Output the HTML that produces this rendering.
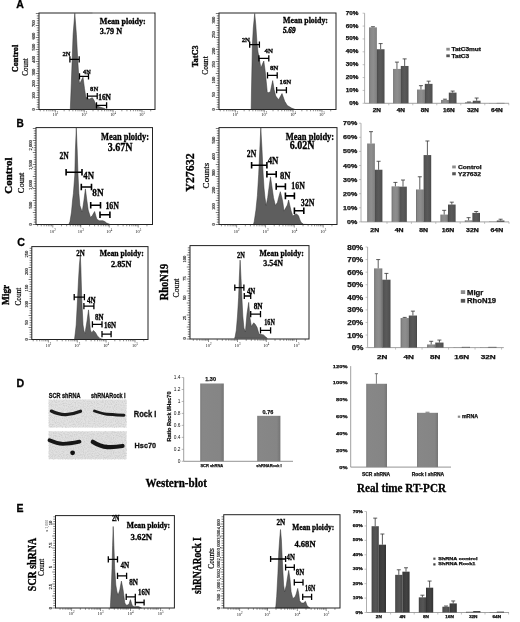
<!DOCTYPE html><html><head><meta charset="utf-8"><style>html,body{margin:0;padding:0;background:#fff;}svg{display:block;filter:blur(0.3px)}text{dominant-baseline:central;font-weight:bold}.s{font-family:"Liberation Serif",serif}.a{font-family:"Liberation Sans",sans-serif}.n{font-weight:normal}.i{font-style:italic}</style></head><body>
<svg width="520" height="622" viewBox="0 0 520 622">
<rect width="520" height="622" fill="#fff"/>
<defs><linearGradient id="gL"><stop offset="0" stop-color="#6c6c6c"/><stop offset="0.2" stop-color="#888"/><stop offset="0.55" stop-color="#8e8e8e"/><stop offset="0.85" stop-color="#858585"/><stop offset="1" stop-color="#6a6a6a"/></linearGradient><linearGradient id="gD"><stop offset="0" stop-color="#444"/><stop offset="0.15" stop-color="#535353"/><stop offset="0.5" stop-color="#5a5a5a"/><stop offset="0.85" stop-color="#525252"/><stop offset="1" stop-color="#444"/></linearGradient><linearGradient id="gEL"><stop offset="0" stop-color="#3e3e3e"/><stop offset="0.2" stop-color="#4f4f4f"/><stop offset="0.6" stop-color="#565656"/><stop offset="1" stop-color="#454545"/></linearGradient><linearGradient id="gED"><stop offset="0" stop-color="#303030"/><stop offset="0.2" stop-color="#3c3c3c"/><stop offset="0.6" stop-color="#424242"/><stop offset="1" stop-color="#333"/></linearGradient><linearGradient id="gR"><stop offset="0" stop-color="#7c7c7c"/><stop offset="0.1" stop-color="#878787"/><stop offset="0.85" stop-color="#858585"/><stop offset="1" stop-color="#747474"/></linearGradient></defs>
<text x="16.2" y="4.3" class="a" font-size="11.2" textLength="7.6" lengthAdjust="spacingAndGlyphs" stroke="#000" stroke-width="0.3">A</text>
<text x="16.5" y="122.9" class="a" font-size="10.8" textLength="7.3" lengthAdjust="spacingAndGlyphs" stroke="#000" stroke-width="0.3">B</text>
<text x="17.3" y="242.3" class="a" font-size="11" textLength="7.7" lengthAdjust="spacingAndGlyphs" stroke="#000" stroke-width="0.3">C</text>
<text x="16.4" y="382.6" class="a" font-size="10.8" textLength="7.7" lengthAdjust="spacingAndGlyphs" stroke="#000" stroke-width="0.3">D</text>
<text x="16.4" y="508.4" class="a" font-size="10.8" textLength="7" lengthAdjust="spacingAndGlyphs" stroke="#000" stroke-width="0.3">E</text>
<polygon points="70.3,109.5 71.3,83.8 72.2,59.2 73.1,34.6 74.8,13.3 76.4,34.6 77.7,59.2 78.9,78.9 79.7,83.8 81.5,80 83,77.2 84.5,88.7 85.8,96.9 89,99.3 92.3,97.7 94,100.2 95.6,104.3 98.9,106.7 104.6,108.5 106,109.5" fill="#5e5e5e" stroke="#333" stroke-width="0.5" stroke-linejoin="round"/>
<rect x="39" y="13" width="116" height="96.5" fill="none" stroke="#222" stroke-width="1"/>
<line x1="92.5" y1="13" x2="154" y2="13" stroke="#aaa" stroke-width="1.3"/>
<path d="M35.8 109.5h3.2M36.8 107.1h2.2M36.8 104.7h2.2M36.8 102.3h2.2M36.8 99.9h2.2M35.8 97.5h3.2M36.8 95.1h2.2M36.8 92.7h2.2M36.8 90.3h2.2M36.8 87.9h2.2M35.8 85.5h3.2M36.8 83.1h2.2M36.8 80.7h2.2M36.8 78.3h2.2M36.8 75.9h2.2M35.8 73.5h3.2M36.8 71.1h2.2M36.8 68.7h2.2M36.8 66.3h2.2M36.8 63.9h2.2M35.8 61.5h3.2M36.8 59.1h2.2M36.8 56.7h2.2M36.8 54.3h2.2M36.8 51.9h2.2M35.8 49.5h3.2M36.8 47.1h2.2M36.8 44.7h2.2M36.8 42.3h2.2M36.8 39.9h2.2M35.8 37.5h3.2M36.8 35.1h2.2M36.8 32.7h2.2M36.8 30.3h2.2M36.8 27.9h2.2M35.8 25.5h3.2M36.8 23.1h2.2M36.8 20.7h2.2M36.8 18.3h2.2M36.8 15.9h2.2M35.8 13.5h3.2" stroke="#222" stroke-width="0.6"/>
<text x="55.4" y="114.8" text-anchor="middle" class="s n" font-size="4.4" fill="#111" >10<tspan dy="-1.5" font-size="3">2</tspan></text>
<text x="84.3" y="114.8" text-anchor="middle" class="s n" font-size="4.4" fill="#111" >10<tspan dy="-1.5" font-size="3">3</tspan></text>
<text x="113.1" y="114.8" text-anchor="middle" class="s n" font-size="4.4" fill="#111" >10<tspan dy="-1.5" font-size="3">4</tspan></text>
<text x="142" y="114.8" text-anchor="middle" class="s n" font-size="4.4" fill="#111" >10<tspan dy="-1.5" font-size="3">5</tspan></text>
<path d="M55.4 109.5v3M64.13 109.5v1.8M69.24 109.5v1.8M40.24 109.5v1.8M72.86 109.5v1.8M43.86 109.5v1.8M75.67 109.5v1.8M46.67 109.5v1.8M77.97 109.5v1.8M48.97 109.5v1.8M79.91 109.5v1.8M50.91 109.5v1.8M81.59 109.5v1.8M52.59 109.5v1.8M83.07 109.5v1.8M54.07 109.5v1.8M84.3 109.5v3M93.03 109.5v1.8M98.14 109.5v1.8M101.76 109.5v1.8M104.57 109.5v1.8M106.87 109.5v1.8M108.81 109.5v1.8M110.49 109.5v1.8M111.97 109.5v1.8M113.1 109.5v3M121.83 109.5v1.8M126.94 109.5v1.8M130.56 109.5v1.8M133.37 109.5v1.8M135.67 109.5v1.8M137.61 109.5v1.8M139.29 109.5v1.8M140.77 109.5v1.8M142 109.5v3M150.73 109.5v1.8" stroke="#333" stroke-width="0.55"/>
<text transform="translate(33.8,109.3) rotate(-90)" text-anchor="middle" class="s n" font-size="4.5" fill="#111" stroke="#111" stroke-width="0.15">0</text>
<text transform="translate(33.8,95.5) rotate(-90)" text-anchor="middle" class="s n" font-size="4.5" fill="#111" stroke="#111" stroke-width="0.15">100</text>
<text transform="translate(33.8,83.5) rotate(-90)" text-anchor="middle" class="s n" font-size="4.5" fill="#111" stroke="#111" stroke-width="0.15">200</text>
<text transform="translate(33.8,72) rotate(-90)" text-anchor="middle" class="s n" font-size="4.5" fill="#111" stroke="#111" stroke-width="0.15">300</text>
<text transform="translate(33.8,59.4) rotate(-90)" text-anchor="middle" class="s n" font-size="4.5" fill="#111" stroke="#111" stroke-width="0.15">400</text>
<text transform="translate(33.8,47) rotate(-90)" text-anchor="middle" class="s n" font-size="4.5" fill="#111" stroke="#111" stroke-width="0.15">500</text>
<text transform="translate(33.8,36) rotate(-90)" text-anchor="middle" class="s n" font-size="4.5" fill="#111" stroke="#111" stroke-width="0.15">600</text>
<text transform="translate(33.8,23.6) rotate(-90)" text-anchor="middle" class="s n" font-size="4.5" fill="#111" stroke="#111" stroke-width="0.15">700</text>
<path d="M69.9 59.3H79.2M69.9 56.2v6.2M79.2 56.2v6.2" stroke="#000" stroke-width="1.3" fill="none"/>
<text x="62.5" y="53.9" class="s" font-size="7" textLength="8" lengthAdjust="spacingAndGlyphs" stroke="#000" stroke-width="0.3">2N</text>
<path d="M79.5 76.3H88.5M79.5 73.2v6.2M88.5 73.2v6.2" stroke="#000" stroke-width="1.3" fill="none"/>
<text x="83.1" y="72.1" class="s" font-size="7" textLength="7.7" lengthAdjust="spacingAndGlyphs" stroke="#000" stroke-width="0.3">4N</text>
<path d="M87.4 96.15H97.2M87.4 93.05v6.2M97.2 93.05v6.2" stroke="#000" stroke-width="1.3" fill="none"/>
<text x="90.1" y="88.9" class="s" font-size="7" textLength="8.1" lengthAdjust="spacingAndGlyphs" stroke="#000" stroke-width="0.3">8N</text>
<path d="M96.5 105.4H106.6M96.5 102.3v6.2M106.6 102.3v6.2" stroke="#000" stroke-width="1.3" fill="none"/>
<text x="98.2" y="97.3" class="s" font-size="7.4" textLength="12.8" lengthAdjust="spacingAndGlyphs" stroke="#000" stroke-width="0.3">16N</text>
<text x="99.8" y="21.6" class="s" font-size="8" textLength="46" lengthAdjust="spacingAndGlyphs" stroke="#000" stroke-width="0.3">Mean ploidy:</text>
<text x="99.8" y="31.3" class="s" font-size="8" textLength="22.3" lengthAdjust="spacingAndGlyphs" stroke="#000" stroke-width="0.3">3.79 N</text>
<text transform="translate(15.25,58.5) rotate(-90)" text-anchor="middle" class="s" font-size="8.2" textLength="27.7" lengthAdjust="spacingAndGlyphs" stroke="#000" stroke-width="0.35">Control</text>
<text transform="translate(25.4,67) rotate(-90)" text-anchor="middle" class="s n" font-size="7.5" textLength="17.3" lengthAdjust="spacingAndGlyphs" stroke="#000" stroke-width="0.2">Count</text>
<polygon points="251.2,109.5 251.5,90 251.9,70 252.4,45 253.3,28 254.7,13.5 255.8,25 256.9,41.7 258,52 259.5,60 260.9,67.9 262.5,64 263.8,61 265.1,70.6 266.2,81.2 267.2,91.7 268.3,92.8 270.4,91.7 272.7,80.6 274.1,89.6 275.7,96 278.6,99.7 282,93.6 284.7,101.3 287.3,105.5 291.6,108.1 295.3,109.5" fill="#5e5e5e" stroke="#333" stroke-width="0.5" stroke-linejoin="round"/>
<rect x="219" y="13" width="117" height="96.5" fill="none" stroke="#222" stroke-width="1"/>
<path d="M215.8 109.5h3.2M216.8 107.1h2.2M216.8 104.7h2.2M216.8 102.3h2.2M216.8 99.9h2.2M215.8 97.5h3.2M216.8 95.1h2.2M216.8 92.7h2.2M216.8 90.3h2.2M216.8 87.9h2.2M215.8 85.5h3.2M216.8 83.1h2.2M216.8 80.7h2.2M216.8 78.3h2.2M216.8 75.9h2.2M215.8 73.5h3.2M216.8 71.1h2.2M216.8 68.7h2.2M216.8 66.3h2.2M216.8 63.9h2.2M215.8 61.5h3.2M216.8 59.1h2.2M216.8 56.7h2.2M216.8 54.3h2.2M216.8 51.9h2.2M215.8 49.5h3.2M216.8 47.1h2.2M216.8 44.7h2.2M216.8 42.3h2.2M216.8 39.9h2.2M215.8 37.5h3.2M216.8 35.1h2.2M216.8 32.7h2.2M216.8 30.3h2.2M216.8 27.9h2.2M215.8 25.5h3.2M216.8 23.1h2.2M216.8 20.7h2.2M216.8 18.3h2.2M216.8 15.9h2.2M215.8 13.5h3.2" stroke="#222" stroke-width="0.6"/>
<text x="235.4" y="114.8" text-anchor="middle" class="s n" font-size="4.4" fill="#111" >10<tspan dy="-1.5" font-size="3">2</tspan></text>
<text x="264.3" y="114.8" text-anchor="middle" class="s n" font-size="4.4" fill="#111" >10<tspan dy="-1.5" font-size="3">3</tspan></text>
<text x="293.1" y="114.8" text-anchor="middle" class="s n" font-size="4.4" fill="#111" >10<tspan dy="-1.5" font-size="3">4</tspan></text>
<text x="322" y="114.8" text-anchor="middle" class="s n" font-size="4.4" fill="#111" >10<tspan dy="-1.5" font-size="3">5</tspan></text>
<path d="M235.4 109.5v3M244.13 109.5v1.8M249.24 109.5v1.8M220.24 109.5v1.8M252.86 109.5v1.8M223.86 109.5v1.8M255.67 109.5v1.8M226.67 109.5v1.8M257.97 109.5v1.8M228.97 109.5v1.8M259.91 109.5v1.8M230.91 109.5v1.8M261.59 109.5v1.8M232.59 109.5v1.8M263.07 109.5v1.8M234.07 109.5v1.8M264.3 109.5v3M273.03 109.5v1.8M278.14 109.5v1.8M281.76 109.5v1.8M284.57 109.5v1.8M286.87 109.5v1.8M288.81 109.5v1.8M290.49 109.5v1.8M291.97 109.5v1.8M293.1 109.5v3M301.83 109.5v1.8M306.94 109.5v1.8M310.56 109.5v1.8M313.37 109.5v1.8M315.67 109.5v1.8M317.61 109.5v1.8M319.29 109.5v1.8M320.77 109.5v1.8M322 109.5v3M330.73 109.5v1.8" stroke="#333" stroke-width="0.55"/>
<text transform="translate(213.8,109.3) rotate(-90)" text-anchor="middle" class="s n" font-size="4.5" fill="#111" stroke="#111" stroke-width="0.15">0</text>
<text transform="translate(213.8,94.5) rotate(-90)" text-anchor="middle" class="s n" font-size="4.5" fill="#111" stroke="#111" stroke-width="0.15">50</text>
<text transform="translate(213.8,80) rotate(-90)" text-anchor="middle" class="s n" font-size="4.5" fill="#111" stroke="#111" stroke-width="0.15">100</text>
<text transform="translate(213.8,64.6) rotate(-90)" text-anchor="middle" class="s n" font-size="4.5" fill="#111" stroke="#111" stroke-width="0.15">150</text>
<text transform="translate(213.8,51) rotate(-90)" text-anchor="middle" class="s n" font-size="4.5" fill="#111" stroke="#111" stroke-width="0.15">200</text>
<text transform="translate(213.8,34.7) rotate(-90)" text-anchor="middle" class="s n" font-size="4.5" fill="#111" stroke="#111" stroke-width="0.15">250</text>
<text transform="translate(213.8,20) rotate(-90)" text-anchor="middle" class="s n" font-size="4.5" fill="#111" stroke="#111" stroke-width="0.15">300</text>
<path d="M249.7 44.6H259.4M249.7 41.5v6.2M259.4 41.5v6.2" stroke="#000" stroke-width="1.3" fill="none"/>
<text x="241.7" y="39.9" class="s" font-size="7" textLength="8.3" lengthAdjust="spacingAndGlyphs" stroke="#000" stroke-width="0.3">2N</text>
<path d="M258.9 58.4H268.8M258.9 55.3v6.2M268.8 55.3v6.2" stroke="#000" stroke-width="1.3" fill="none"/>
<text x="264.6" y="50.9" class="s" font-size="7" textLength="8.4" lengthAdjust="spacingAndGlyphs" stroke="#000" stroke-width="0.3">4N</text>
<path d="M267.5 75.4H277.2M267.5 72.3v6.2M277.2 72.3v6.2" stroke="#000" stroke-width="1.3" fill="none"/>
<text x="269.9" y="67.5" class="s" font-size="7" textLength="8.5" lengthAdjust="spacingAndGlyphs" stroke="#000" stroke-width="0.3">8N</text>
<path d="M276.6 90.1H286.4M276.6 87v6.2M286.4 87v6.2" stroke="#000" stroke-width="1.3" fill="none"/>
<text x="279.5" y="82.2" class="s" font-size="7" textLength="11.7" lengthAdjust="spacingAndGlyphs" stroke="#000" stroke-width="0.3">16N</text>
<text x="283" y="20.5" class="s" font-size="8" textLength="45" lengthAdjust="spacingAndGlyphs" stroke="#000" stroke-width="0.3">Mean ploidy:</text>
<text x="283" y="30.2" class="s i" font-size="8.5" textLength="12.5" lengthAdjust="spacingAndGlyphs" stroke="#000" stroke-width="0.5">5.69</text>
<text transform="translate(195.7,56.3) rotate(-90)" text-anchor="middle" class="s" font-size="8" textLength="21.7" lengthAdjust="spacingAndGlyphs" stroke="#000" stroke-width="0.35">TatC3</text>
<text transform="translate(205.7,65.5) rotate(-90)" text-anchor="middle" class="s n" font-size="7.5" textLength="18.5" lengthAdjust="spacingAndGlyphs" stroke="#000" stroke-width="0.2">Count</text>
<polygon points="68.8,224.5 70,221.5 71.5,212 72.6,200 73.4,193.5 74.8,175 75.4,150 76.3,128 77.2,150 78,175 78.9,193.5 79.9,205.5 82.2,212 84,200 85.4,188.9 86.8,200 88.2,210 90.5,217.5 92.3,215.6 94.6,211.5 96,216.5 96.9,219.3 99.2,220.7 102.9,220.7 104.8,221.6 106.6,223 110.3,224.5" fill="#5e5e5e" stroke="#333" stroke-width="0.5" stroke-linejoin="round"/>
<rect x="36" y="127.6" width="116.5" height="96.9" fill="none" stroke="#222" stroke-width="1"/>
<path d="M32.8 224.5h3.2M33.8 222.1h2.2M33.8 219.7h2.2M33.8 217.3h2.2M33.8 214.9h2.2M32.8 212.5h3.2M33.8 210.1h2.2M33.8 207.7h2.2M33.8 205.3h2.2M33.8 202.9h2.2M32.8 200.5h3.2M33.8 198.1h2.2M33.8 195.7h2.2M33.8 193.3h2.2M33.8 190.9h2.2M32.8 188.5h3.2M33.8 186.1h2.2M33.8 183.7h2.2M33.8 181.3h2.2M33.8 178.9h2.2M32.8 176.5h3.2M33.8 174.1h2.2M33.8 171.7h2.2M33.8 169.3h2.2M33.8 166.9h2.2M32.8 164.5h3.2M33.8 162.1h2.2M33.8 159.7h2.2M33.8 157.3h2.2M33.8 154.9h2.2M32.8 152.5h3.2M33.8 150.1h2.2M33.8 147.7h2.2M33.8 145.3h2.2M33.8 142.9h2.2M32.8 140.5h3.2M33.8 138.1h2.2M33.8 135.7h2.2M33.8 133.3h2.2M33.8 130.9h2.2M32.8 128.5h3.2" stroke="#222" stroke-width="0.6"/>
<text x="52.8" y="231.8" text-anchor="middle" class="s n" font-size="4.4" fill="#111" >10<tspan dy="-1.5" font-size="3">2</tspan></text>
<text x="80.8" y="231.8" text-anchor="middle" class="s n" font-size="4.4" fill="#111" >10<tspan dy="-1.5" font-size="3">3</tspan></text>
<text x="109.3" y="231.8" text-anchor="middle" class="s n" font-size="4.4" fill="#111" >10<tspan dy="-1.5" font-size="3">4</tspan></text>
<text x="138.2" y="231.8" text-anchor="middle" class="s n" font-size="4.4" fill="#111" >10<tspan dy="-1.5" font-size="3">5</tspan></text>
<path d="M52.8 224.5v3M61.53 224.5v1.8M66.64 224.5v1.8M37.64 224.5v1.8M70.26 224.5v1.8M41.26 224.5v1.8M73.07 224.5v1.8M44.07 224.5v1.8M75.37 224.5v1.8M46.37 224.5v1.8M77.31 224.5v1.8M48.31 224.5v1.8M78.99 224.5v1.8M49.99 224.5v1.8M80.47 224.5v1.8M51.47 224.5v1.8M80.8 224.5v3M89.53 224.5v1.8M94.64 224.5v1.8M98.26 224.5v1.8M101.07 224.5v1.8M103.37 224.5v1.8M105.31 224.5v1.8M106.99 224.5v1.8M108.47 224.5v1.8M109.3 224.5v3M118.03 224.5v1.8M123.14 224.5v1.8M126.76 224.5v1.8M129.57 224.5v1.8M131.87 224.5v1.8M133.81 224.5v1.8M135.49 224.5v1.8M136.97 224.5v1.8M138.2 224.5v3M146.93 224.5v1.8" stroke="#333" stroke-width="0.55"/>
<text transform="translate(30.8,224.3) rotate(-90)" text-anchor="middle" class="s n" font-size="4.5" fill="#111" stroke="#111" stroke-width="0.15">0</text>
<text transform="translate(30.8,205) rotate(-90)" text-anchor="middle" class="s n" font-size="4.5" fill="#111" stroke="#111" stroke-width="0.15">500</text>
<text transform="translate(30.8,185) rotate(-90)" text-anchor="middle" class="s n" font-size="4.5" fill="#111" stroke="#111" stroke-width="0.15">1,000</text>
<text transform="translate(30.8,165) rotate(-90)" text-anchor="middle" class="s n" font-size="4.5" fill="#111" stroke="#111" stroke-width="0.15">1,500</text>
<text transform="translate(30.8,145.4) rotate(-90)" text-anchor="middle" class="s n" font-size="4.5" fill="#111" stroke="#111" stroke-width="0.15">2,000</text>
<path d="M66.1 172.2H82M66.1 168.9v6.6M82 168.9v6.6" stroke="#000" stroke-width="1.6" fill="none"/>
<text x="59.4" y="155.7" class="s" font-size="10" textLength="9.3" lengthAdjust="spacingAndGlyphs" stroke="#000" stroke-width="0.3">2N</text>
<path d="M81.3 187H91.5M81.3 183.7v6.6M91.5 183.7v6.6" stroke="#000" stroke-width="1.6" fill="none"/>
<text x="83.3" y="175" class="s" font-size="10" textLength="10.7" lengthAdjust="spacingAndGlyphs" stroke="#000" stroke-width="0.3">4N</text>
<path d="M90.7 205.3H100.5M90.7 202v6.6M100.5 202v6.6" stroke="#000" stroke-width="1.6" fill="none"/>
<text x="92.3" y="192.4" class="s" font-size="10" textLength="11.3" lengthAdjust="spacingAndGlyphs" stroke="#000" stroke-width="0.3">8N</text>
<path d="M100 214.8H109.9M100 211.5v6.6M109.9 211.5v6.6" stroke="#000" stroke-width="1.6" fill="none"/>
<text x="105.4" y="205.5" class="s" font-size="10" textLength="13.6" lengthAdjust="spacingAndGlyphs" stroke="#000" stroke-width="0.3">16N</text>
<text x="101" y="136" class="s" font-size="10" textLength="48" lengthAdjust="spacingAndGlyphs" stroke="#000" stroke-width="0.3">Mean ploidy:</text>
<text x="107.7" y="147.2" class="s" font-size="12" textLength="24.8" lengthAdjust="spacingAndGlyphs" stroke="#000" stroke-width="0.3">3.67N</text>
<text transform="translate(8.9,175.6) rotate(-90)" text-anchor="middle" class="s" font-size="10.5" textLength="36.2" lengthAdjust="spacingAndGlyphs" stroke="#000" stroke-width="0.35">Control</text>
<text transform="translate(20.7,182.9) rotate(-90)" text-anchor="middle" class="s n" font-size="8.5" textLength="20.7" lengthAdjust="spacingAndGlyphs" stroke="#000" stroke-width="0.2">Count</text>
<polygon points="253.4,224.5 254.2,221.8 255.9,210.3 257.4,195.6 258.7,174.2 259.8,149.6 260.8,128 262,149.6 263,172 264,188 265,198 266.2,205.5 267.7,197.7 268.9,188.5 270.5,176.9 272.2,188.5 273.5,197.7 275.4,205.5 277.5,202.3 278.6,197.7 280.3,191.7 281.9,197.7 282.8,202.3 284,211.1 287.4,205 288.6,200 289.7,205 291.1,211 292.9,216.2 294.5,214.5 296.6,214.1 298.5,215.7 299.9,219.9 301.2,222.6 303.6,224.3 308.2,224.5" fill="#5e5e5e" stroke="#333" stroke-width="0.5" stroke-linejoin="round"/>
<rect x="219" y="127.6" width="118" height="96.9" fill="none" stroke="#222" stroke-width="1"/>
<path d="M215.8 224.5h3.2M216.8 222.1h2.2M216.8 219.7h2.2M216.8 217.3h2.2M216.8 214.9h2.2M215.8 212.5h3.2M216.8 210.1h2.2M216.8 207.7h2.2M216.8 205.3h2.2M216.8 202.9h2.2M215.8 200.5h3.2M216.8 198.1h2.2M216.8 195.7h2.2M216.8 193.3h2.2M216.8 190.9h2.2M215.8 188.5h3.2M216.8 186.1h2.2M216.8 183.7h2.2M216.8 181.3h2.2M216.8 178.9h2.2M215.8 176.5h3.2M216.8 174.1h2.2M216.8 171.7h2.2M216.8 169.3h2.2M216.8 166.9h2.2M215.8 164.5h3.2M216.8 162.1h2.2M216.8 159.7h2.2M216.8 157.3h2.2M216.8 154.9h2.2M215.8 152.5h3.2M216.8 150.1h2.2M216.8 147.7h2.2M216.8 145.3h2.2M216.8 142.9h2.2M215.8 140.5h3.2M216.8 138.1h2.2M216.8 135.7h2.2M216.8 133.3h2.2M216.8 130.9h2.2M215.8 128.5h3.2" stroke="#222" stroke-width="0.6"/>
<text x="236.6" y="231" text-anchor="middle" class="s n" font-size="4.4" fill="#111" >10<tspan dy="-1.5" font-size="3">2</tspan></text>
<text x="265.5" y="231" text-anchor="middle" class="s n" font-size="4.4" fill="#111" >10<tspan dy="-1.5" font-size="3">3</tspan></text>
<text x="294.3" y="231" text-anchor="middle" class="s n" font-size="4.4" fill="#111" >10<tspan dy="-1.5" font-size="3">4</tspan></text>
<text x="323.2" y="231" text-anchor="middle" class="s n" font-size="4.4" fill="#111" >10<tspan dy="-1.5" font-size="3">5</tspan></text>
<path d="M236.6 224.5v3M245.33 224.5v1.8M250.44 224.5v1.8M221.44 224.5v1.8M254.06 224.5v1.8M225.06 224.5v1.8M256.87 224.5v1.8M227.87 224.5v1.8M259.17 224.5v1.8M230.17 224.5v1.8M261.11 224.5v1.8M232.11 224.5v1.8M262.79 224.5v1.8M233.79 224.5v1.8M264.27 224.5v1.8M235.27 224.5v1.8M265.5 224.5v3M274.23 224.5v1.8M279.34 224.5v1.8M282.96 224.5v1.8M285.77 224.5v1.8M288.07 224.5v1.8M290.01 224.5v1.8M291.69 224.5v1.8M293.17 224.5v1.8M294.3 224.5v3M303.03 224.5v1.8M308.14 224.5v1.8M311.76 224.5v1.8M314.57 224.5v1.8M316.87 224.5v1.8M318.81 224.5v1.8M320.49 224.5v1.8M321.97 224.5v1.8M323.2 224.5v3M331.93 224.5v1.8" stroke="#333" stroke-width="0.55"/>
<text transform="translate(213.8,224.3) rotate(-90)" text-anchor="middle" class="s n" font-size="4.5" fill="#111" stroke="#111" stroke-width="0.15">0</text>
<text transform="translate(213.8,206.6) rotate(-90)" text-anchor="middle" class="s n" font-size="4.5" fill="#111" stroke="#111" stroke-width="0.15">100</text>
<text transform="translate(213.8,190.2) rotate(-90)" text-anchor="middle" class="s n" font-size="4.5" fill="#111" stroke="#111" stroke-width="0.15">200</text>
<text transform="translate(213.8,172.9) rotate(-90)" text-anchor="middle" class="s n" font-size="4.5" fill="#111" stroke="#111" stroke-width="0.15">300</text>
<text transform="translate(213.8,156.5) rotate(-90)" text-anchor="middle" class="s n" font-size="4.5" fill="#111" stroke="#111" stroke-width="0.15">400</text>
<text transform="translate(213.8,140) rotate(-90)" text-anchor="middle" class="s n" font-size="4.5" fill="#111" stroke="#111" stroke-width="0.15">500</text>
<path d="M251.6 165.2H266.9M251.6 161.9v6.6M266.9 161.9v6.6" stroke="#000" stroke-width="1.6" fill="none"/>
<text x="246.8" y="153.7" class="s" font-size="10" textLength="9.4" lengthAdjust="spacingAndGlyphs" stroke="#000" stroke-width="0.3">2N</text>
<path d="M266.9 174.3H276.2M266.9 171v6.6M276.2 171v6.6" stroke="#000" stroke-width="1.6" fill="none"/>
<text x="267.7" y="160.3" class="s" font-size="10" textLength="10.7" lengthAdjust="spacingAndGlyphs" stroke="#000" stroke-width="0.3">4N</text>
<path d="M276.2 186.5H285.4M276.2 183.2v6.6M285.4 183.2v6.6" stroke="#000" stroke-width="1.6" fill="none"/>
<text x="280" y="175" class="s" font-size="10" textLength="10.5" lengthAdjust="spacingAndGlyphs" stroke="#000" stroke-width="0.3">8N</text>
<path d="M285.4 195.9H294.4M285.4 192.6v6.6M294.4 192.6v6.6" stroke="#000" stroke-width="1.6" fill="none"/>
<text x="291.3" y="185.6" class="s" font-size="10" textLength="13.5" lengthAdjust="spacingAndGlyphs" stroke="#000" stroke-width="0.3">16N</text>
<path d="M294.4 210.7H303.8M294.4 207.4v6.6M303.8 207.4v6.6" stroke="#000" stroke-width="1.6" fill="none"/>
<text x="300.8" y="202.1" class="s" font-size="10" textLength="13.7" lengthAdjust="spacingAndGlyphs" stroke="#000" stroke-width="0.3">32N</text>
<text x="285.8" y="136.6" class="s" font-size="10" textLength="48.4" lengthAdjust="spacingAndGlyphs" stroke="#000" stroke-width="0.3">Mean ploidy:</text>
<text x="289.8" y="144.5" class="s" font-size="12" textLength="24.8" lengthAdjust="spacingAndGlyphs" stroke="#000" stroke-width="0.3">6.02N</text>
<text transform="translate(189.6,172.5) rotate(-90)" text-anchor="middle" class="s" font-size="13.5" textLength="38.5" lengthAdjust="spacingAndGlyphs" stroke="#000" stroke-width="0.35">Y27632</text>
<text transform="translate(206.3,175.6) rotate(-90)" text-anchor="middle" class="s n" font-size="8.5" textLength="25.6" lengthAdjust="spacingAndGlyphs" stroke="#000" stroke-width="0.2">Counts</text>
<polygon points="74.5,339.5 75.3,333 76.2,324.9 77.5,300 78.5,280 79.4,265 80.3,255.6 80.9,268 81.2,280 81.8,300 83,324.9 84,331 85,333.4 87.2,320 88.5,309.9 89.5,320 90.4,329.9 91.7,332.9 93.4,330.4 95.4,332.4 97.4,335.9 99.9,338.4 103,339.5" fill="#5e5e5e" stroke="#333" stroke-width="0.5" stroke-linejoin="round"/>
<rect x="31.8" y="246.6" width="116.2" height="92.9" fill="none" stroke="#222" stroke-width="1"/>
<path d="M28.6 339.5h3.2M29.6 337.1h2.2M29.6 334.7h2.2M29.6 332.3h2.2M29.6 329.9h2.2M28.6 327.5h3.2M29.6 325.1h2.2M29.6 322.7h2.2M29.6 320.3h2.2M29.6 317.9h2.2M28.6 315.5h3.2M29.6 313.1h2.2M29.6 310.7h2.2M29.6 308.3h2.2M29.6 305.9h2.2M28.6 303.5h3.2M29.6 301.1h2.2M29.6 298.7h2.2M29.6 296.3h2.2M29.6 293.9h2.2M28.6 291.5h3.2M29.6 289.1h2.2M29.6 286.7h2.2M29.6 284.3h2.2M29.6 281.9h2.2M28.6 279.5h3.2M29.6 277.1h2.2M29.6 274.7h2.2M29.6 272.3h2.2M29.6 269.9h2.2M28.6 267.5h3.2M29.6 265.1h2.2M29.6 262.7h2.2M29.6 260.3h2.2M29.6 257.9h2.2M28.6 255.5h3.2M29.6 253.1h2.2M29.6 250.7h2.2M29.6 248.3h2.2" stroke="#222" stroke-width="0.6"/>
<text x="48.4" y="345.8" text-anchor="middle" class="s n" font-size="4.4" fill="#111" >10<tspan dy="-1.5" font-size="3">2</tspan></text>
<text x="77.3" y="345.8" text-anchor="middle" class="s n" font-size="4.4" fill="#111" >10<tspan dy="-1.5" font-size="3">3</tspan></text>
<text x="106.1" y="345.8" text-anchor="middle" class="s n" font-size="4.4" fill="#111" >10<tspan dy="-1.5" font-size="3">4</tspan></text>
<text x="135" y="345.8" text-anchor="middle" class="s n" font-size="4.4" fill="#111" >10<tspan dy="-1.5" font-size="3">5</tspan></text>
<path d="M48.4 339.5v3M57.13 339.5v1.8M62.24 339.5v1.8M33.24 339.5v1.8M65.86 339.5v1.8M36.86 339.5v1.8M68.67 339.5v1.8M39.67 339.5v1.8M70.97 339.5v1.8M41.97 339.5v1.8M72.91 339.5v1.8M43.91 339.5v1.8M74.59 339.5v1.8M45.59 339.5v1.8M76.07 339.5v1.8M47.07 339.5v1.8M77.3 339.5v3M86.03 339.5v1.8M91.14 339.5v1.8M94.76 339.5v1.8M97.57 339.5v1.8M99.87 339.5v1.8M101.81 339.5v1.8M103.49 339.5v1.8M104.97 339.5v1.8M106.1 339.5v3M114.83 339.5v1.8M119.94 339.5v1.8M123.56 339.5v1.8M126.37 339.5v1.8M128.67 339.5v1.8M130.61 339.5v1.8M132.29 339.5v1.8M133.77 339.5v1.8M135 339.5v3M143.73 339.5v1.8" stroke="#333" stroke-width="0.55"/>
<text transform="translate(26.6,339.3) rotate(-90)" text-anchor="middle" class="s n" font-size="4.5" fill="#111" stroke="#111" stroke-width="0.15">0</text>
<text transform="translate(26.6,322.6) rotate(-90)" text-anchor="middle" class="s n" font-size="4.5" fill="#111" stroke="#111" stroke-width="0.15">50</text>
<text transform="translate(26.6,304.3) rotate(-90)" text-anchor="middle" class="s n" font-size="4.5" fill="#111" stroke="#111" stroke-width="0.15">100</text>
<text transform="translate(26.6,288) rotate(-90)" text-anchor="middle" class="s n" font-size="4.5" fill="#111" stroke="#111" stroke-width="0.15">150</text>
<text transform="translate(26.6,271.5) rotate(-90)" text-anchor="middle" class="s n" font-size="4.5" fill="#111" stroke="#111" stroke-width="0.15">200</text>
<text transform="translate(26.6,254) rotate(-90)" text-anchor="middle" class="s n" font-size="4.5" fill="#111" stroke="#111" stroke-width="0.15">250</text>
<path d="M74.2 297.1H84.4M74.2 294v6.2M84.4 294v6.2" stroke="#000" stroke-width="1.3" fill="none"/>
<text x="76.3" y="253.3" class="s" font-size="8" textLength="8.5" lengthAdjust="spacingAndGlyphs" stroke="#000" stroke-width="0.3">2N</text>
<path d="M83.9 306.2H93.9M83.9 303.1v6.2M93.9 303.1v6.2" stroke="#000" stroke-width="1.3" fill="none"/>
<text x="86.9" y="300.1" class="s" font-size="8" textLength="8.8" lengthAdjust="spacingAndGlyphs" stroke="#000" stroke-width="0.3">4N</text>
<path d="M92.4 324.3H102M92.4 321.2v6.2M102 321.2v6.2" stroke="#000" stroke-width="1.3" fill="none"/>
<text x="94.9" y="317.8" class="s" font-size="8" textLength="8.6" lengthAdjust="spacingAndGlyphs" stroke="#000" stroke-width="0.3">8N</text>
<path d="M102 334.1H111.1M102 331v6.2M111.1 331v6.2" stroke="#000" stroke-width="1.3" fill="none"/>
<text x="104" y="325.8" class="s" font-size="8" textLength="12" lengthAdjust="spacingAndGlyphs" stroke="#000" stroke-width="0.3">16N</text>
<text x="99.8" y="253.8" class="s" font-size="8.3" textLength="43.9" lengthAdjust="spacingAndGlyphs" stroke="#000" stroke-width="0.3">Mean ploidy:</text>
<text x="110.9" y="263.8" class="s" font-size="8.5" textLength="20.6" lengthAdjust="spacingAndGlyphs" stroke="#000" stroke-width="0.3">2.85N</text>
<text transform="translate(6,294.9) rotate(-90)" text-anchor="middle" class="s" font-size="9.5" textLength="20.2" lengthAdjust="spacingAndGlyphs" stroke="#000" stroke-width="0.35">Migr</text>
<text transform="translate(18.1,296.6) rotate(-90)" text-anchor="middle" class="s n" font-size="7.5" textLength="17.8" lengthAdjust="spacingAndGlyphs" stroke="#000" stroke-width="0.2">Count</text>
<polygon points="234.5,338.3 235.1,337.1 236.3,330.3 237.5,316 238.6,297.8 239.3,278.2 240.1,260.1 241,278.2 241.9,297.8 242.8,316 243.9,328 245.4,331.8 247,314 248.7,302.4 249.9,317.5 251.4,326.5 253.7,322.8 255.2,324.3 257,327.3 259,334.1 263.5,334.9 265.8,337.1 267.3,338.3" fill="#5e5e5e" stroke="#333" stroke-width="0.5" stroke-linejoin="round"/>
<rect x="190" y="245.6" width="119" height="93.4" fill="none" stroke="#222" stroke-width="1"/>
<path d="M186.8 339h3.2M187.8 336.6h2.2M187.8 334.2h2.2M187.8 331.8h2.2M187.8 329.4h2.2M186.8 327h3.2M187.8 324.6h2.2M187.8 322.2h2.2M187.8 319.8h2.2M187.8 317.4h2.2M186.8 315h3.2M187.8 312.6h2.2M187.8 310.2h2.2M187.8 307.8h2.2M187.8 305.4h2.2M186.8 303h3.2M187.8 300.6h2.2M187.8 298.2h2.2M187.8 295.8h2.2M187.8 293.4h2.2M186.8 291h3.2M187.8 288.6h2.2M187.8 286.2h2.2M187.8 283.8h2.2M187.8 281.4h2.2M186.8 279h3.2M187.8 276.6h2.2M187.8 274.2h2.2M187.8 271.8h2.2M187.8 269.4h2.2M186.8 267h3.2M187.8 264.6h2.2M187.8 262.2h2.2M187.8 259.8h2.2M187.8 257.4h2.2M186.8 255h3.2M187.8 252.6h2.2M187.8 250.2h2.2M187.8 247.8h2.2" stroke="#222" stroke-width="0.6"/>
<text x="208.5" y="345.8" text-anchor="middle" class="s n" font-size="4.4" fill="#111" >10<tspan dy="-1.5" font-size="3">2</tspan></text>
<text x="237.5" y="345.8" text-anchor="middle" class="s n" font-size="4.4" fill="#111" >10<tspan dy="-1.5" font-size="3">3</tspan></text>
<text x="266.3" y="345.8" text-anchor="middle" class="s n" font-size="4.4" fill="#111" >10<tspan dy="-1.5" font-size="3">4</tspan></text>
<text x="296.5" y="345.8" text-anchor="middle" class="s n" font-size="4.4" fill="#111" >10<tspan dy="-1.5" font-size="3">5</tspan></text>
<path d="M208.5 339v3M217.23 339v1.8M222.34 339v1.8M193.34 339v1.8M225.96 339v1.8M196.96 339v1.8M228.77 339v1.8M199.77 339v1.8M231.07 339v1.8M202.07 339v1.8M233.01 339v1.8M204.01 339v1.8M234.69 339v1.8M205.69 339v1.8M236.17 339v1.8M207.17 339v1.8M237.5 339v3M246.23 339v1.8M251.34 339v1.8M254.96 339v1.8M257.77 339v1.8M260.07 339v1.8M262.01 339v1.8M263.69 339v1.8M265.17 339v1.8M266.3 339v3M275.03 339v1.8M280.14 339v1.8M283.76 339v1.8M286.57 339v1.8M288.87 339v1.8M290.81 339v1.8M292.49 339v1.8M293.97 339v1.8M296.5 339v3M305.23 339v1.8" stroke="#333" stroke-width="0.55"/>
<text transform="translate(184.8,338.3) rotate(-90)" text-anchor="middle" class="s n" font-size="4.5" fill="#111" stroke="#111" stroke-width="0.15">0</text>
<text transform="translate(184.8,318) rotate(-90)" text-anchor="middle" class="s n" font-size="4.5" fill="#111" stroke="#111" stroke-width="0.15">25</text>
<text transform="translate(184.8,297.7) rotate(-90)" text-anchor="middle" class="s n" font-size="4.5" fill="#111" stroke="#111" stroke-width="0.15">50</text>
<text transform="translate(184.8,278.4) rotate(-90)" text-anchor="middle" class="s n" font-size="4.5" fill="#111" stroke="#111" stroke-width="0.15">75</text>
<text transform="translate(184.8,259) rotate(-90)" text-anchor="middle" class="s n" font-size="4.5" fill="#111" stroke="#111" stroke-width="0.15">100</text>
<path d="M234.8 287.6H243.9M234.8 284.5v6.2M243.9 284.5v6.2" stroke="#000" stroke-width="1.3" fill="none"/>
<text x="237.1" y="255.6" class="s" font-size="8" textLength="7.8" lengthAdjust="spacingAndGlyphs" stroke="#000" stroke-width="0.3">2N</text>
<path d="M244.3 296H250.7M244.3 292.9v6.2M250.7 292.9v6.2" stroke="#000" stroke-width="1.3" fill="none"/>
<text x="246.9" y="291" class="s" font-size="8" textLength="8.3" lengthAdjust="spacingAndGlyphs" stroke="#000" stroke-width="0.3">4N</text>
<path d="M250.7 314.2H260.5M250.7 311.1v6.2M260.5 311.1v6.2" stroke="#000" stroke-width="1.3" fill="none"/>
<text x="253.7" y="306.9" class="s" font-size="8" textLength="9" lengthAdjust="spacingAndGlyphs" stroke="#000" stroke-width="0.3">8N</text>
<path d="M260.5 330.3H270.6M260.5 327.2v6.2M270.6 327.2v6.2" stroke="#000" stroke-width="1.3" fill="none"/>
<text x="264.3" y="322.8" class="s" font-size="8" textLength="10.5" lengthAdjust="spacingAndGlyphs" stroke="#000" stroke-width="0.3">16N</text>
<text x="259.5" y="252.5" class="s" font-size="8.5" textLength="44.25" lengthAdjust="spacingAndGlyphs" stroke="#000" stroke-width="0.3">Mean ploidy:</text>
<text x="263.3" y="263.3" class="s" font-size="9" textLength="19.7" lengthAdjust="spacingAndGlyphs" stroke="#000" stroke-width="0.3">3.54N</text>
<text transform="translate(163.5,282) rotate(-90)" text-anchor="middle" class="s" font-size="11.5" textLength="36.6" lengthAdjust="spacingAndGlyphs" stroke="#000" stroke-width="0.35">RhoN19</text>
<text transform="translate(176.3,288) rotate(-90)" text-anchor="middle" class="s n" font-size="8" textLength="18.8" lengthAdjust="spacingAndGlyphs" stroke="#000" stroke-width="0.2">Count</text>
<polygon points="110.3,608 110.6,602.2 111.3,588.4 112,568.5 112.6,545.6 113.2,526.5 113.9,545.6 114.7,568.5 115.8,585 117,592 118.1,595.1 119.8,590 121.4,581.1 123.1,590 124.8,603 126.2,605.2 128,605 129.2,603.5 130.4,599.6 131.6,603.5 132.5,606 134.6,606.7 138.4,606.4 141.5,608" fill="#5e5e5e" stroke="#333" stroke-width="0.5" stroke-linejoin="round"/>
<rect x="55.5" y="515.6" width="118.9" height="92.4" fill="none" stroke="#222" stroke-width="1"/>
<path d="M52.3 608h3.2M53.3 605.6h2.2M53.3 603.2h2.2M53.3 600.8h2.2M53.3 598.4h2.2M52.3 596h3.2M53.3 593.6h2.2M53.3 591.2h2.2M53.3 588.8h2.2M53.3 586.4h2.2M52.3 584h3.2M53.3 581.6h2.2M53.3 579.2h2.2M53.3 576.8h2.2M53.3 574.4h2.2M52.3 572h3.2M53.3 569.6h2.2M53.3 567.2h2.2M53.3 564.8h2.2M53.3 562.4h2.2M52.3 560h3.2M53.3 557.6h2.2M53.3 555.2h2.2M53.3 552.8h2.2M53.3 550.4h2.2M52.3 548h3.2M53.3 545.6h2.2M53.3 543.2h2.2M53.3 540.8h2.2M53.3 538.4h2.2M52.3 536h3.2M53.3 533.6h2.2M53.3 531.2h2.2M53.3 528.8h2.2M53.3 526.4h2.2M52.3 524h3.2M53.3 521.6h2.2M53.3 519.2h2.2M53.3 516.8h2.2" stroke="#222" stroke-width="0.6"/>
<text x="71.6" y="613.6" text-anchor="middle" class="s n" font-size="4.4" fill="#111" >10<tspan dy="-1.5" font-size="3">2</tspan></text>
<text x="100.5" y="613.6" text-anchor="middle" class="s n" font-size="4.4" fill="#111" >10<tspan dy="-1.5" font-size="3">3</tspan></text>
<text x="130.5" y="613.6" text-anchor="middle" class="s n" font-size="4.4" fill="#111" >10<tspan dy="-1.5" font-size="3">4</tspan></text>
<text x="160.6" y="613.6" text-anchor="middle" class="s n" font-size="4.4" fill="#111" >10<tspan dy="-1.5" font-size="3">5</tspan></text>
<path d="M71.6 608v3M80.33 608v1.8M85.44 608v1.8M89.06 608v1.8M60.06 608v1.8M91.87 608v1.8M62.87 608v1.8M94.17 608v1.8M65.17 608v1.8M96.11 608v1.8M67.11 608v1.8M97.79 608v1.8M68.79 608v1.8M99.27 608v1.8M70.27 608v1.8M100.5 608v3M109.23 608v1.8M114.34 608v1.8M117.96 608v1.8M120.77 608v1.8M123.07 608v1.8M125.01 608v1.8M126.69 608v1.8M128.17 608v1.8M130.5 608v3M139.23 608v1.8M144.34 608v1.8M147.96 608v1.8M150.77 608v1.8M153.07 608v1.8M155.01 608v1.8M156.69 608v1.8M158.17 608v1.8M160.6 608v3M169.33 608v1.8" stroke="#333" stroke-width="0.55"/>
<text transform="translate(50.3,608) rotate(-90)" text-anchor="middle" class="s n" font-size="4.5" fill="#111" stroke="#111" stroke-width="0.15">0</text>
<text transform="translate(50.3,586.8) rotate(-90)" text-anchor="middle" class="s n" font-size="4.5" fill="#111" stroke="#111" stroke-width="0.15">2.5</text>
<text transform="translate(50.3,567) rotate(-90)" text-anchor="middle" class="s n" font-size="4.5" fill="#111" stroke="#111" stroke-width="0.15">5</text>
<text transform="translate(50.3,545.4) rotate(-90)" text-anchor="middle" class="s n" font-size="4.5" fill="#111" stroke="#111" stroke-width="0.15">7.5</text>
<text transform="translate(50.3,522.9) rotate(-90)" text-anchor="middle" class="s n" font-size="4.5" fill="#111" stroke="#111" stroke-width="0.15">10</text>
<path d="M108.3 559.3H117.5M108.3 556.2v6.2M117.5 556.2v6.2" stroke="#000" stroke-width="1.3" fill="none"/>
<text x="112" y="518.4" class="s" font-size="8" textLength="7.6" lengthAdjust="spacingAndGlyphs" stroke="#000" stroke-width="0.3">2N</text>
<path d="M117.5 575.9H126.6M117.5 572.8v6.2M126.6 572.8v6.2" stroke="#000" stroke-width="1.3" fill="none"/>
<text x="120.5" y="565.5" class="s" font-size="8" textLength="8.7" lengthAdjust="spacingAndGlyphs" stroke="#000" stroke-width="0.3">4N</text>
<path d="M126.2 596.8H135.3M126.2 593.7v6.2M135.3 593.7v6.2" stroke="#000" stroke-width="1.3" fill="none"/>
<text x="129.2" y="582.3" class="s" font-size="8" textLength="8.8" lengthAdjust="spacingAndGlyphs" stroke="#000" stroke-width="0.3">8N</text>
<path d="M135.3 602.5H144.1M135.3 599.4v6.2M144.1 599.4v6.2" stroke="#000" stroke-width="1.3" fill="none"/>
<text x="138" y="592.2" class="s" font-size="8" textLength="11.9" lengthAdjust="spacingAndGlyphs" stroke="#000" stroke-width="0.3">16N</text>
<text x="126.8" y="525" class="s" font-size="7.5" textLength="43.3" lengthAdjust="spacingAndGlyphs" stroke="#000" stroke-width="0.3">Mean ploidy:</text>
<text x="130.5" y="537.3" class="s" font-size="9" textLength="21.7" lengthAdjust="spacingAndGlyphs" stroke="#000" stroke-width="0.3">3.62N</text>
<text transform="translate(31.7,564.5) rotate(-90)" text-anchor="middle" class="s" font-size="12" textLength="53.3" lengthAdjust="spacingAndGlyphs" stroke="#000" stroke-width="0.35">SCR shRNA</text>
<text transform="translate(41.7,567.4) rotate(-90)" text-anchor="middle" class="s n" font-size="7.5" textLength="17.4" lengthAdjust="spacingAndGlyphs" stroke="#000" stroke-width="0.2">Count</text>
<text transform="translate(46.3,525.7) rotate(-90)" text-anchor="middle" class="s n" font-size="4" fill="#333" >x 1,000</text>
<polygon points="275.5,608 275.9,606 276.7,596.3 277.9,573.8 278.8,552 279.6,540 280.5,529.5 281.4,540 281.9,552 283,573.8 283.6,585 284.6,591.8 286.4,585 287.2,579.4 288.7,570.4 290,579.4 291.1,591.8 292.8,598.5 295,597 296.2,594 297.7,588.4 298.8,594 299.6,600.8 301.5,603 303.5,603 305.5,601.3 307.1,605.8 309.1,607.5 310,608" fill="#5e5e5e" stroke="#333" stroke-width="0.5" stroke-linejoin="round"/>
<rect x="223.75" y="514.7" width="116.25" height="93.3" fill="none" stroke="#222" stroke-width="1"/>
<path d="M220.55 608h3.2M221.55 605.6h2.2M221.55 603.2h2.2M221.55 600.8h2.2M221.55 598.4h2.2M220.55 596h3.2M221.55 593.6h2.2M221.55 591.2h2.2M221.55 588.8h2.2M221.55 586.4h2.2M220.55 584h3.2M221.55 581.6h2.2M221.55 579.2h2.2M221.55 576.8h2.2M221.55 574.4h2.2M220.55 572h3.2M221.55 569.6h2.2M221.55 567.2h2.2M221.55 564.8h2.2M221.55 562.4h2.2M220.55 560h3.2M221.55 557.6h2.2M221.55 555.2h2.2M221.55 552.8h2.2M221.55 550.4h2.2M220.55 548h3.2M221.55 545.6h2.2M221.55 543.2h2.2M221.55 540.8h2.2M221.55 538.4h2.2M220.55 536h3.2M221.55 533.6h2.2M221.55 531.2h2.2M221.55 528.8h2.2M221.55 526.4h2.2M220.55 524h3.2M221.55 521.6h2.2M221.55 519.2h2.2M221.55 516.8h2.2" stroke="#222" stroke-width="0.6"/>
<text x="239.6" y="614" text-anchor="middle" class="s n" font-size="4.4" fill="#111" >10<tspan dy="-1.5" font-size="3">2</tspan></text>
<text x="267.3" y="614" text-anchor="middle" class="s n" font-size="4.4" fill="#111" >10<tspan dy="-1.5" font-size="3">3</tspan></text>
<text x="297.3" y="614" text-anchor="middle" class="s n" font-size="4.4" fill="#111" >10<tspan dy="-1.5" font-size="3">4</tspan></text>
<text x="326.2" y="614" text-anchor="middle" class="s n" font-size="4.4" fill="#111" >10<tspan dy="-1.5" font-size="3">5</tspan></text>
<path d="M239.6 608v3M248.33 608v1.8M253.44 608v1.8M257.06 608v1.8M228.06 608v1.8M259.87 608v1.8M230.87 608v1.8M262.17 608v1.8M233.17 608v1.8M264.11 608v1.8M235.11 608v1.8M265.79 608v1.8M236.79 608v1.8M267.27 608v1.8M238.27 608v1.8M267.3 608v3M276.03 608v1.8M281.14 608v1.8M284.76 608v1.8M287.57 608v1.8M289.87 608v1.8M291.81 608v1.8M293.49 608v1.8M294.97 608v1.8M297.3 608v3M306.03 608v1.8M311.14 608v1.8M314.76 608v1.8M317.57 608v1.8M319.87 608v1.8M321.81 608v1.8M323.49 608v1.8M324.97 608v1.8M326.2 608v3M334.93 608v1.8" stroke="#333" stroke-width="0.55"/>
<text transform="translate(218.55,608) rotate(-90)" text-anchor="middle" class="s n" font-size="4.5" fill="#111" stroke="#111" stroke-width="0.15">0</text>
<text transform="translate(218.55,597.1) rotate(-90)" text-anchor="middle" class="s n" font-size="4.5" fill="#111" stroke="#111" stroke-width="0.15">500</text>
<text transform="translate(218.55,586.7) rotate(-90)" text-anchor="middle" class="s n" font-size="4.5" fill="#111" stroke="#111" stroke-width="0.15">1,000</text>
<text transform="translate(218.55,576.3) rotate(-90)" text-anchor="middle" class="s n" font-size="4.5" fill="#111" stroke="#111" stroke-width="0.15">1,500</text>
<text transform="translate(218.55,565.9) rotate(-90)" text-anchor="middle" class="s n" font-size="4.5" fill="#111" stroke="#111" stroke-width="0.15">2,000</text>
<text transform="translate(218.55,555.5) rotate(-90)" text-anchor="middle" class="s n" font-size="4.5" fill="#111" stroke="#111" stroke-width="0.15">2,500</text>
<text transform="translate(218.55,545.1) rotate(-90)" text-anchor="middle" class="s n" font-size="4.5" fill="#111" stroke="#111" stroke-width="0.15">3,000</text>
<text transform="translate(218.55,534.7) rotate(-90)" text-anchor="middle" class="s n" font-size="4.5" fill="#111" stroke="#111" stroke-width="0.15">3,500</text>
<text transform="translate(218.55,524.3) rotate(-90)" text-anchor="middle" class="s n" font-size="4.5" fill="#111" stroke="#111" stroke-width="0.15">4,000</text>
<path d="M270.6 559H285.6M270.6 555.9v6.2M285.6 555.9v6.2" stroke="#000" stroke-width="1.3" fill="none"/>
<text x="276.4" y="522.3" class="s" font-size="8" textLength="8.7" lengthAdjust="spacingAndGlyphs" stroke="#000" stroke-width="0.3">2N</text>
<path d="M285.6 567.3H294.3M285.6 564.2v6.2M294.3 564.2v6.2" stroke="#000" stroke-width="1.3" fill="none"/>
<text x="286.6" y="557.8" class="s" font-size="8" textLength="8.4" lengthAdjust="spacingAndGlyphs" stroke="#000" stroke-width="0.3">4N</text>
<path d="M294.3 582.3H303M294.3 579.2v6.2M303 579.2v6.2" stroke="#000" stroke-width="1.3" fill="none"/>
<text x="295.8" y="572.8" class="s" font-size="8" textLength="8.4" lengthAdjust="spacingAndGlyphs" stroke="#000" stroke-width="0.3">8N</text>
<path d="M302.7 596.8H311.6M302.7 593.7v6.2M311.6 593.7v6.2" stroke="#000" stroke-width="1.3" fill="none"/>
<text x="305" y="588.4" class="s" font-size="8" textLength="10.2" lengthAdjust="spacingAndGlyphs" stroke="#000" stroke-width="0.3">16N</text>
<text x="292.3" y="527.2" class="s" font-size="7.5" textLength="41.8" lengthAdjust="spacingAndGlyphs" stroke="#000" stroke-width="0.3">Mean ploidy:</text>
<text x="294.4" y="543.5" class="s" font-size="9" textLength="21.2" lengthAdjust="spacingAndGlyphs" stroke="#000" stroke-width="0.3">4.68N</text>
<text transform="translate(196.8,565.6) rotate(-90)" text-anchor="middle" class="s" font-size="11.5" textLength="56.8" lengthAdjust="spacingAndGlyphs" stroke="#000" stroke-width="0.35">shRNARock I</text>
<text transform="translate(211.3,558.4) rotate(-90)" text-anchor="middle" class="s n" font-size="7.5" textLength="20.5" lengthAdjust="spacingAndGlyphs" stroke="#000" stroke-width="0.2">Counts</text>
<line x1="364.6" y1="13.2" x2="364.6" y2="103.3" stroke="#999" stroke-width="0.8"/>
<line x1="364.6" y1="103.3" x2="509" y2="103.3" stroke="#999" stroke-width="0.9"/>
<line x1="362.6" y1="103.3" x2="364.6" y2="103.3" stroke="#999" stroke-width="0.6"/>
<text x="358.5" y="103.3" text-anchor="end" class="a" font-size="4.8" fill="#111" textLength="9.16" lengthAdjust="spacingAndGlyphs" stroke="#111" stroke-width="0.25">0%</text>
<line x1="362.6" y1="90.43" x2="364.6" y2="90.43" stroke="#999" stroke-width="0.6"/>
<text x="358.5" y="90.43" text-anchor="end" class="a" font-size="4.8" fill="#111" textLength="12.68" lengthAdjust="spacingAndGlyphs" stroke="#111" stroke-width="0.25">10%</text>
<line x1="362.6" y1="77.56" x2="364.6" y2="77.56" stroke="#999" stroke-width="0.6"/>
<text x="358.5" y="77.56" text-anchor="end" class="a" font-size="4.8" fill="#111" textLength="12.68" lengthAdjust="spacingAndGlyphs" stroke="#111" stroke-width="0.25">20%</text>
<line x1="362.6" y1="64.69" x2="364.6" y2="64.69" stroke="#999" stroke-width="0.6"/>
<text x="358.5" y="64.69" text-anchor="end" class="a" font-size="4.8" fill="#111" textLength="12.68" lengthAdjust="spacingAndGlyphs" stroke="#111" stroke-width="0.25">30%</text>
<line x1="362.6" y1="51.81" x2="364.6" y2="51.81" stroke="#999" stroke-width="0.6"/>
<text x="358.5" y="51.81" text-anchor="end" class="a" font-size="4.8" fill="#111" textLength="12.68" lengthAdjust="spacingAndGlyphs" stroke="#111" stroke-width="0.25">40%</text>
<line x1="362.6" y1="38.94" x2="364.6" y2="38.94" stroke="#999" stroke-width="0.6"/>
<text x="358.5" y="38.94" text-anchor="end" class="a" font-size="4.8" fill="#111" textLength="12.68" lengthAdjust="spacingAndGlyphs" stroke="#111" stroke-width="0.25">50%</text>
<line x1="362.6" y1="26.07" x2="364.6" y2="26.07" stroke="#999" stroke-width="0.6"/>
<text x="358.5" y="26.07" text-anchor="end" class="a" font-size="4.8" fill="#111" textLength="12.68" lengthAdjust="spacingAndGlyphs" stroke="#111" stroke-width="0.25">60%</text>
<line x1="362.6" y1="13.2" x2="364.6" y2="13.2" stroke="#999" stroke-width="0.6"/>
<text x="358.5" y="13.2" text-anchor="end" class="a" font-size="4.8" fill="#111" textLength="12.68" lengthAdjust="spacingAndGlyphs" stroke="#111" stroke-width="0.25">70%</text>
<line x1="388.8" y1="103.3" x2="388.8" y2="105.3" stroke="#999" stroke-width="0.6"/>
<line x1="412.8" y1="103.3" x2="412.8" y2="105.3" stroke="#999" stroke-width="0.6"/>
<line x1="436.8" y1="103.3" x2="436.8" y2="105.3" stroke="#999" stroke-width="0.6"/>
<line x1="460.8" y1="103.3" x2="460.8" y2="105.3" stroke="#999" stroke-width="0.6"/>
<line x1="484.8" y1="103.3" x2="484.8" y2="105.3" stroke="#999" stroke-width="0.6"/>
<line x1="508.8" y1="103.3" x2="508.8" y2="105.3" stroke="#999" stroke-width="0.6"/>
<text x="376.8" y="110" text-anchor="middle" class="a" font-size="4.6" fill="#111" textLength="8.23" lengthAdjust="spacingAndGlyphs" stroke="#111" stroke-width="0.25">2N</text>
<rect x="369.1" y="27.36" width="7.7" height="75.94" fill="url(#gL)"/>
<line x1="372.95" y1="26.72" x2="372.95" y2="27.36" stroke="#333" stroke-width="0.8"/>
<line x1="370.95" y1="26.72" x2="374.95" y2="26.72" stroke="#333" stroke-width="0.8"/>
<rect x="376.8" y="49.24" width="7.7" height="54.06" fill="url(#gD)"/>
<line x1="380.65" y1="43.58" x2="380.65" y2="49.24" stroke="#333" stroke-width="0.8"/>
<line x1="378.65" y1="43.58" x2="382.65" y2="43.58" stroke="#333" stroke-width="0.8"/>
<text x="400.8" y="110" text-anchor="middle" class="a" font-size="4.6" fill="#111" textLength="8.23" lengthAdjust="spacingAndGlyphs" stroke="#111" stroke-width="0.25">4N</text>
<rect x="393.1" y="68.93" width="7.7" height="34.37" fill="url(#gL)"/>
<line x1="396.95" y1="62.11" x2="396.95" y2="68.93" stroke="#333" stroke-width="0.8"/>
<line x1="394.95" y1="62.11" x2="398.95" y2="62.11" stroke="#333" stroke-width="0.8"/>
<rect x="400.8" y="65.97" width="7.7" height="37.33" fill="url(#gD)"/>
<line x1="404.65" y1="58.89" x2="404.65" y2="65.97" stroke="#333" stroke-width="0.8"/>
<line x1="402.65" y1="58.89" x2="406.65" y2="58.89" stroke="#333" stroke-width="0.8"/>
<text x="424.8" y="110" text-anchor="middle" class="a" font-size="4.6" fill="#111" textLength="8.23" lengthAdjust="spacingAndGlyphs" stroke="#111" stroke-width="0.25">8N</text>
<rect x="417.1" y="89.53" width="7.7" height="13.77" fill="url(#gL)"/>
<line x1="420.95" y1="85.67" x2="420.95" y2="89.53" stroke="#333" stroke-width="0.8"/>
<line x1="418.95" y1="85.67" x2="422.95" y2="85.67" stroke="#333" stroke-width="0.8"/>
<rect x="424.8" y="83.86" width="7.7" height="19.44" fill="url(#gD)"/>
<line x1="428.65" y1="81.16" x2="428.65" y2="83.86" stroke="#333" stroke-width="0.8"/>
<line x1="426.65" y1="81.16" x2="430.65" y2="81.16" stroke="#333" stroke-width="0.8"/>
<text x="448.8" y="110" text-anchor="middle" class="a" font-size="4.6" fill="#111" textLength="11.81" lengthAdjust="spacingAndGlyphs" stroke="#111" stroke-width="0.25">16N</text>
<rect x="441.1" y="99.95" width="7.7" height="3.35" fill="url(#gL)"/>
<line x1="444.95" y1="99.18" x2="444.95" y2="99.95" stroke="#333" stroke-width="0.8"/>
<line x1="442.95" y1="99.18" x2="446.95" y2="99.18" stroke="#333" stroke-width="0.8"/>
<rect x="448.8" y="92.62" width="7.7" height="10.68" fill="url(#gD)"/>
<line x1="452.65" y1="91.07" x2="452.65" y2="92.62" stroke="#333" stroke-width="0.8"/>
<line x1="450.65" y1="91.07" x2="454.65" y2="91.07" stroke="#333" stroke-width="0.8"/>
<text x="472.8" y="110" text-anchor="middle" class="a" font-size="4.6" fill="#111" textLength="11.81" lengthAdjust="spacingAndGlyphs" stroke="#111" stroke-width="0.25">32N</text>
<rect x="465.1" y="102.27" width="7.7" height="1.03" fill="url(#gL)"/>
<line x1="468.95" y1="102.01" x2="468.95" y2="102.27" stroke="#333" stroke-width="0.8"/>
<line x1="466.95" y1="102.01" x2="470.95" y2="102.01" stroke="#333" stroke-width="0.8"/>
<rect x="472.8" y="100.73" width="7.7" height="2.57" fill="url(#gD)"/>
<line x1="476.65" y1="98.02" x2="476.65" y2="100.73" stroke="#333" stroke-width="0.8"/>
<line x1="474.65" y1="98.02" x2="478.65" y2="98.02" stroke="#333" stroke-width="0.8"/>
<text x="496.8" y="110" text-anchor="middle" class="a" font-size="4.6" fill="#111" textLength="11.81" lengthAdjust="spacingAndGlyphs" stroke="#111" stroke-width="0.25">64N</text>
<rect x="489.1" y="103.04" width="7.7" height="0.26" fill="url(#gL)"/>
<rect x="496.8" y="102.91" width="7.7" height="0.39" fill="url(#gD)"/>
<rect x="446.3" y="47.8" width="3.5" height="2.8" fill="#8c8c8c"/>
<text x="451.5" y="49.2" class="a" font-size="5" fill="#111" textLength="29.51" lengthAdjust="spacingAndGlyphs" stroke="#111" stroke-width="0.25">TatC3mut</text>
<rect x="446.3" y="54.4" width="3.5" height="2.8" fill="#555555"/>
<text x="451.5" y="56.2" class="a" font-size="5" fill="#111" textLength="17.78" lengthAdjust="spacingAndGlyphs" stroke="#111" stroke-width="0.25">TatC3</text>
<line x1="361" y1="123.2" x2="361" y2="221.9" stroke="#999" stroke-width="0.8"/>
<line x1="361" y1="221.9" x2="509" y2="221.9" stroke="#999" stroke-width="0.9"/>
<line x1="359" y1="221.9" x2="361" y2="221.9" stroke="#999" stroke-width="0.6"/>
<text x="357.2" y="221.9" text-anchor="end" class="a" font-size="5.5" fill="#111" textLength="10.25" lengthAdjust="spacingAndGlyphs" stroke="#111" stroke-width="0.25">0%</text>
<line x1="359" y1="207.8" x2="361" y2="207.8" stroke="#999" stroke-width="0.6"/>
<text x="357.2" y="207.8" text-anchor="end" class="a" font-size="5.5" fill="#111" textLength="14.2" lengthAdjust="spacingAndGlyphs" stroke="#111" stroke-width="0.25">10%</text>
<line x1="359" y1="193.7" x2="361" y2="193.7" stroke="#999" stroke-width="0.6"/>
<text x="357.2" y="193.7" text-anchor="end" class="a" font-size="5.5" fill="#111" textLength="14.2" lengthAdjust="spacingAndGlyphs" stroke="#111" stroke-width="0.25">20%</text>
<line x1="359" y1="179.6" x2="361" y2="179.6" stroke="#999" stroke-width="0.6"/>
<text x="357.2" y="179.6" text-anchor="end" class="a" font-size="5.5" fill="#111" textLength="14.2" lengthAdjust="spacingAndGlyphs" stroke="#111" stroke-width="0.25">30%</text>
<line x1="359" y1="165.5" x2="361" y2="165.5" stroke="#999" stroke-width="0.6"/>
<text x="357.2" y="165.5" text-anchor="end" class="a" font-size="5.5" fill="#111" textLength="14.2" lengthAdjust="spacingAndGlyphs" stroke="#111" stroke-width="0.25">40%</text>
<line x1="359" y1="151.4" x2="361" y2="151.4" stroke="#999" stroke-width="0.6"/>
<text x="357.2" y="151.4" text-anchor="end" class="a" font-size="5.5" fill="#111" textLength="14.2" lengthAdjust="spacingAndGlyphs" stroke="#111" stroke-width="0.25">50%</text>
<line x1="359" y1="137.3" x2="361" y2="137.3" stroke="#999" stroke-width="0.6"/>
<text x="357.2" y="137.3" text-anchor="end" class="a" font-size="5.5" fill="#111" textLength="14.2" lengthAdjust="spacingAndGlyphs" stroke="#111" stroke-width="0.25">60%</text>
<line x1="359" y1="123.2" x2="361" y2="123.2" stroke="#999" stroke-width="0.6"/>
<text x="357.2" y="123.2" text-anchor="end" class="a" font-size="5.5" fill="#111" textLength="14.2" lengthAdjust="spacingAndGlyphs" stroke="#111" stroke-width="0.25">70%</text>
<line x1="387" y1="221.9" x2="387" y2="223.9" stroke="#999" stroke-width="0.6"/>
<line x1="411.4" y1="221.9" x2="411.4" y2="223.9" stroke="#999" stroke-width="0.6"/>
<line x1="435.8" y1="221.9" x2="435.8" y2="223.9" stroke="#999" stroke-width="0.6"/>
<line x1="460.2" y1="221.9" x2="460.2" y2="223.9" stroke="#999" stroke-width="0.6"/>
<line x1="484.6" y1="221.9" x2="484.6" y2="223.9" stroke="#999" stroke-width="0.6"/>
<line x1="509" y1="221.9" x2="509" y2="223.9" stroke="#999" stroke-width="0.6"/>
<text x="374.8" y="229.8" text-anchor="middle" class="a" font-size="5" fill="#111" textLength="8.82" lengthAdjust="spacingAndGlyphs" stroke="#111" stroke-width="0.25">2N</text>
<rect x="367.2" y="143.5" width="7.6" height="78.4" fill="url(#gL)"/>
<line x1="371" y1="131.66" x2="371" y2="143.5" stroke="#333" stroke-width="0.8"/>
<line x1="369" y1="131.66" x2="373" y2="131.66" stroke="#333" stroke-width="0.8"/>
<rect x="374.8" y="169.73" width="7.6" height="52.17" fill="url(#gD)"/>
<line x1="378.6" y1="161.27" x2="378.6" y2="169.73" stroke="#333" stroke-width="0.8"/>
<line x1="376.6" y1="161.27" x2="380.6" y2="161.27" stroke="#333" stroke-width="0.8"/>
<text x="399.2" y="229.8" text-anchor="middle" class="a" font-size="5" fill="#111" textLength="8.82" lengthAdjust="spacingAndGlyphs" stroke="#111" stroke-width="0.25">4N</text>
<rect x="391.6" y="186.37" width="7.6" height="35.53" fill="url(#gL)"/>
<line x1="395.4" y1="182.42" x2="395.4" y2="186.37" stroke="#333" stroke-width="0.8"/>
<line x1="393.4" y1="182.42" x2="397.4" y2="182.42" stroke="#333" stroke-width="0.8"/>
<rect x="399.2" y="186.65" width="7.6" height="35.25" fill="url(#gD)"/>
<line x1="403" y1="180.02" x2="403" y2="186.65" stroke="#333" stroke-width="0.8"/>
<line x1="401" y1="180.02" x2="405" y2="180.02" stroke="#333" stroke-width="0.8"/>
<text x="423.6" y="229.8" text-anchor="middle" class="a" font-size="5" fill="#111" textLength="8.82" lengthAdjust="spacingAndGlyphs" stroke="#111" stroke-width="0.25">8N</text>
<rect x="416" y="189.47" width="7.6" height="32.43" fill="url(#gL)"/>
<line x1="419.8" y1="176.78" x2="419.8" y2="189.47" stroke="#333" stroke-width="0.8"/>
<line x1="417.8" y1="176.78" x2="421.8" y2="176.78" stroke="#333" stroke-width="0.8"/>
<rect x="423.6" y="155.07" width="7.6" height="66.83" fill="url(#gD)"/>
<line x1="427.4" y1="140.97" x2="427.4" y2="155.07" stroke="#333" stroke-width="0.8"/>
<line x1="425.4" y1="140.97" x2="429.4" y2="140.97" stroke="#333" stroke-width="0.8"/>
<text x="448" y="229.8" text-anchor="middle" class="a" font-size="5" fill="#111" textLength="12.66" lengthAdjust="spacingAndGlyphs" stroke="#111" stroke-width="0.25">16N</text>
<rect x="440.4" y="214.57" width="7.6" height="7.33" fill="url(#gL)"/>
<line x1="444.2" y1="210.34" x2="444.2" y2="214.57" stroke="#333" stroke-width="0.8"/>
<line x1="442.2" y1="210.34" x2="446.2" y2="210.34" stroke="#333" stroke-width="0.8"/>
<rect x="448" y="204.56" width="7.6" height="17.34" fill="url(#gD)"/>
<line x1="451.8" y1="202.16" x2="451.8" y2="204.56" stroke="#333" stroke-width="0.8"/>
<line x1="449.8" y1="202.16" x2="453.8" y2="202.16" stroke="#333" stroke-width="0.8"/>
<text x="472.4" y="229.8" text-anchor="middle" class="a" font-size="5" fill="#111" textLength="12.66" lengthAdjust="spacingAndGlyphs" stroke="#111" stroke-width="0.25">32N</text>
<rect x="464.8" y="220.35" width="7.6" height="1.55" fill="url(#gL)"/>
<line x1="468.6" y1="217.67" x2="468.6" y2="220.35" stroke="#333" stroke-width="0.8"/>
<line x1="466.6" y1="217.67" x2="470.6" y2="217.67" stroke="#333" stroke-width="0.8"/>
<rect x="472.4" y="212.88" width="7.6" height="9.02" fill="url(#gD)"/>
<line x1="476.2" y1="211.47" x2="476.2" y2="212.88" stroke="#333" stroke-width="0.8"/>
<line x1="474.2" y1="211.47" x2="478.2" y2="211.47" stroke="#333" stroke-width="0.8"/>
<text x="496.8" y="229.8" text-anchor="middle" class="a" font-size="5" fill="#111" textLength="12.66" lengthAdjust="spacingAndGlyphs" stroke="#111" stroke-width="0.25">64N</text>
<rect x="489.2" y="221.48" width="7.6" height="0.42" fill="url(#gL)"/>
<rect x="496.8" y="220.49" width="7.6" height="1.41" fill="url(#gD)"/>
<line x1="500.6" y1="219.22" x2="500.6" y2="220.49" stroke="#333" stroke-width="0.8"/>
<line x1="498.6" y1="219.22" x2="502.6" y2="219.22" stroke="#333" stroke-width="0.8"/>
<rect x="452.2" y="165.5" width="3.6" height="2.9" fill="#8c8c8c"/>
<text x="458" y="167.1" class="a" font-size="5" fill="#111" textLength="23.64" lengthAdjust="spacingAndGlyphs" stroke="#111" stroke-width="0.25">Control</text>
<rect x="452.2" y="172.2" width="3.6" height="3.1" fill="#555555"/>
<text x="458" y="173.9" class="a" font-size="5" fill="#111" textLength="22.93" lengthAdjust="spacingAndGlyphs" stroke="#111" stroke-width="0.25">Y27632</text>
<line x1="367.6" y1="247" x2="367.6" y2="347.6" stroke="#999" stroke-width="0.8"/>
<line x1="367.6" y1="347.6" x2="503.8" y2="347.6" stroke="#999" stroke-width="0.9"/>
<line x1="365.6" y1="347.6" x2="367.6" y2="347.6" stroke="#999" stroke-width="0.6"/>
<text x="363.3" y="347.6" text-anchor="end" class="a" font-size="6.6" fill="#111" textLength="11.64" lengthAdjust="spacingAndGlyphs" stroke="#111" stroke-width="0.25">0%</text>
<line x1="365.6" y1="335.03" x2="367.6" y2="335.03" stroke="#999" stroke-width="0.6"/>
<text x="363.3" y="335.03" text-anchor="end" class="a" font-size="6.6" fill="#111" textLength="16.12" lengthAdjust="spacingAndGlyphs" stroke="#111" stroke-width="0.25">10%</text>
<line x1="365.6" y1="322.45" x2="367.6" y2="322.45" stroke="#999" stroke-width="0.6"/>
<text x="363.3" y="322.45" text-anchor="end" class="a" font-size="6.6" fill="#111" textLength="16.12" lengthAdjust="spacingAndGlyphs" stroke="#111" stroke-width="0.25">20%</text>
<line x1="365.6" y1="309.88" x2="367.6" y2="309.88" stroke="#999" stroke-width="0.6"/>
<text x="363.3" y="309.88" text-anchor="end" class="a" font-size="6.6" fill="#111" textLength="16.12" lengthAdjust="spacingAndGlyphs" stroke="#111" stroke-width="0.25">30%</text>
<line x1="365.6" y1="297.3" x2="367.6" y2="297.3" stroke="#999" stroke-width="0.6"/>
<text x="363.3" y="297.3" text-anchor="end" class="a" font-size="6.6" fill="#111" textLength="16.12" lengthAdjust="spacingAndGlyphs" stroke="#111" stroke-width="0.25">40%</text>
<line x1="365.6" y1="284.73" x2="367.6" y2="284.73" stroke="#999" stroke-width="0.6"/>
<text x="363.3" y="284.73" text-anchor="end" class="a" font-size="6.6" fill="#111" textLength="16.12" lengthAdjust="spacingAndGlyphs" stroke="#111" stroke-width="0.25">50%</text>
<line x1="365.6" y1="272.15" x2="367.6" y2="272.15" stroke="#999" stroke-width="0.6"/>
<text x="363.3" y="272.15" text-anchor="end" class="a" font-size="6.6" fill="#111" textLength="16.12" lengthAdjust="spacingAndGlyphs" stroke="#111" stroke-width="0.25">60%</text>
<line x1="365.6" y1="259.57" x2="367.6" y2="259.57" stroke="#999" stroke-width="0.6"/>
<text x="363.3" y="259.57" text-anchor="end" class="a" font-size="6.6" fill="#111" textLength="16.12" lengthAdjust="spacingAndGlyphs" stroke="#111" stroke-width="0.25">70%</text>
<line x1="365.6" y1="247" x2="367.6" y2="247" stroke="#999" stroke-width="0.6"/>
<text x="363.3" y="247" text-anchor="end" class="a" font-size="6.6" fill="#111" textLength="16.12" lengthAdjust="spacingAndGlyphs" stroke="#111" stroke-width="0.25">80%</text>
<line x1="395.55" y1="347.6" x2="395.55" y2="349.6" stroke="#999" stroke-width="0.6"/>
<line x1="422.05" y1="347.6" x2="422.05" y2="349.6" stroke="#999" stroke-width="0.6"/>
<line x1="448.55" y1="347.6" x2="448.55" y2="349.6" stroke="#999" stroke-width="0.6"/>
<line x1="475.05" y1="347.6" x2="475.05" y2="349.6" stroke="#999" stroke-width="0.6"/>
<line x1="501.55" y1="347.6" x2="501.55" y2="349.6" stroke="#999" stroke-width="0.6"/>
<text x="382.3" y="356.7" text-anchor="middle" class="a" font-size="6.2" fill="#111" textLength="10.46" lengthAdjust="spacingAndGlyphs" stroke="#111" stroke-width="0.25">2N</text>
<rect x="374.1" y="268.38" width="8.2" height="79.22" fill="url(#gL)"/>
<line x1="378.2" y1="259.57" x2="378.2" y2="268.38" stroke="#333" stroke-width="0.8"/>
<line x1="376.2" y1="259.57" x2="380.2" y2="259.57" stroke="#333" stroke-width="0.8"/>
<rect x="382.3" y="279.69" width="8.2" height="67.91" fill="url(#gD)"/>
<line x1="386.4" y1="273.41" x2="386.4" y2="279.69" stroke="#333" stroke-width="0.8"/>
<line x1="384.4" y1="273.41" x2="388.4" y2="273.41" stroke="#333" stroke-width="0.8"/>
<text x="408.8" y="356.7" text-anchor="middle" class="a" font-size="6.2" fill="#111" textLength="10.46" lengthAdjust="spacingAndGlyphs" stroke="#111" stroke-width="0.25">4N</text>
<rect x="400.6" y="318.05" width="8.2" height="29.55" fill="url(#gL)"/>
<line x1="404.7" y1="317.42" x2="404.7" y2="318.05" stroke="#333" stroke-width="0.8"/>
<line x1="402.7" y1="317.42" x2="406.7" y2="317.42" stroke="#333" stroke-width="0.8"/>
<rect x="408.8" y="315.53" width="8.2" height="32.07" fill="url(#gD)"/>
<line x1="412.9" y1="311.13" x2="412.9" y2="315.53" stroke="#333" stroke-width="0.8"/>
<line x1="410.9" y1="311.13" x2="414.9" y2="311.13" stroke="#333" stroke-width="0.8"/>
<text x="435.3" y="356.7" text-anchor="middle" class="a" font-size="6.2" fill="#111" textLength="10.46" lengthAdjust="spacingAndGlyphs" stroke="#111" stroke-width="0.25">8N</text>
<rect x="427.1" y="344.46" width="8.2" height="3.14" fill="url(#gL)"/>
<line x1="431.2" y1="341.31" x2="431.2" y2="344.46" stroke="#333" stroke-width="0.8"/>
<line x1="429.2" y1="341.31" x2="433.2" y2="341.31" stroke="#333" stroke-width="0.8"/>
<rect x="435.3" y="342.57" width="8.2" height="5.03" fill="url(#gD)"/>
<line x1="439.4" y1="340.06" x2="439.4" y2="342.57" stroke="#333" stroke-width="0.8"/>
<line x1="437.4" y1="340.06" x2="441.4" y2="340.06" stroke="#333" stroke-width="0.8"/>
<text x="461.8" y="356.7" text-anchor="middle" class="a" font-size="6.2" fill="#111" textLength="15.01" lengthAdjust="spacingAndGlyphs" stroke="#111" stroke-width="0.25">16N</text>
<rect x="453.6" y="347.22" width="8.2" height="0.38" fill="url(#gL)"/>
<rect x="461.8" y="346.85" width="8.2" height="0.75" fill="url(#gD)"/>
<text x="488.3" y="356.7" text-anchor="middle" class="a" font-size="6.2" fill="#111" textLength="15.01" lengthAdjust="spacingAndGlyphs" stroke="#111" stroke-width="0.25">32N</text>
<rect x="480.1" y="347.22" width="8.2" height="0.38" fill="url(#gL)"/>
<rect x="488.3" y="346.85" width="8.2" height="0.75" fill="url(#gD)"/>
<rect x="460.8" y="290.2" width="4.4" height="3.8" fill="#8c8c8c"/>
<text x="467" y="292" class="a" font-size="6.4" fill="#111" textLength="16.21" lengthAdjust="spacingAndGlyphs" stroke="#111" stroke-width="0.25">Migr</text>
<rect x="460.8" y="298.9" width="4.4" height="3.8" fill="#555555"/>
<text x="467" y="300.7" class="a" font-size="6.4" fill="#111" textLength="29.02" lengthAdjust="spacingAndGlyphs" stroke="#111" stroke-width="0.25">RhoN19</text>
<line x1="366.5" y1="511.5" x2="366.5" y2="612.5" stroke="#999" stroke-width="0.8"/>
<line x1="366.5" y1="612.5" x2="509" y2="612.5" stroke="#999" stroke-width="0.9"/>
<line x1="364.5" y1="612.5" x2="366.5" y2="612.5" stroke="#999" stroke-width="0.6"/>
<text x="362.8" y="612.5" text-anchor="end" class="a" font-size="3.6" fill="#111" textLength="7.23" lengthAdjust="spacingAndGlyphs" stroke="#111" stroke-width="0.25">0%</text>
<line x1="364.5" y1="598.07" x2="366.5" y2="598.07" stroke="#999" stroke-width="0.6"/>
<text x="362.8" y="598.07" text-anchor="end" class="a" font-size="3.6" fill="#111" textLength="10.02" lengthAdjust="spacingAndGlyphs" stroke="#111" stroke-width="0.25">10%</text>
<line x1="364.5" y1="583.64" x2="366.5" y2="583.64" stroke="#999" stroke-width="0.6"/>
<text x="362.8" y="583.64" text-anchor="end" class="a" font-size="3.6" fill="#111" textLength="10.02" lengthAdjust="spacingAndGlyphs" stroke="#111" stroke-width="0.25">20%</text>
<line x1="364.5" y1="569.21" x2="366.5" y2="569.21" stroke="#999" stroke-width="0.6"/>
<text x="362.8" y="569.21" text-anchor="end" class="a" font-size="3.6" fill="#111" textLength="10.02" lengthAdjust="spacingAndGlyphs" stroke="#111" stroke-width="0.25">30%</text>
<line x1="364.5" y1="554.79" x2="366.5" y2="554.79" stroke="#999" stroke-width="0.6"/>
<text x="362.8" y="554.79" text-anchor="end" class="a" font-size="3.6" fill="#111" textLength="10.02" lengthAdjust="spacingAndGlyphs" stroke="#111" stroke-width="0.25">40%</text>
<line x1="364.5" y1="540.36" x2="366.5" y2="540.36" stroke="#999" stroke-width="0.6"/>
<text x="362.8" y="540.36" text-anchor="end" class="a" font-size="3.6" fill="#111" textLength="10.02" lengthAdjust="spacingAndGlyphs" stroke="#111" stroke-width="0.25">50%</text>
<line x1="364.5" y1="525.93" x2="366.5" y2="525.93" stroke="#999" stroke-width="0.6"/>
<text x="362.8" y="525.93" text-anchor="end" class="a" font-size="3.6" fill="#111" textLength="10.02" lengthAdjust="spacingAndGlyphs" stroke="#111" stroke-width="0.25">60%</text>
<line x1="364.5" y1="511.5" x2="366.5" y2="511.5" stroke="#999" stroke-width="0.6"/>
<text x="362.8" y="511.5" text-anchor="end" class="a" font-size="3.6" fill="#111" textLength="10.02" lengthAdjust="spacingAndGlyphs" stroke="#111" stroke-width="0.25">70%</text>
<line x1="390.6" y1="612.5" x2="390.6" y2="614.5" stroke="#999" stroke-width="0.6"/>
<line x1="414.2" y1="612.5" x2="414.2" y2="614.5" stroke="#999" stroke-width="0.6"/>
<line x1="437.8" y1="612.5" x2="437.8" y2="614.5" stroke="#999" stroke-width="0.6"/>
<line x1="461.4" y1="612.5" x2="461.4" y2="614.5" stroke="#999" stroke-width="0.6"/>
<line x1="485" y1="612.5" x2="485" y2="614.5" stroke="#999" stroke-width="0.6"/>
<line x1="508.6" y1="612.5" x2="508.6" y2="614.5" stroke="#999" stroke-width="0.6"/>
<text x="378.8" y="617.4" text-anchor="middle" class="a" font-size="3.6" fill="#111" textLength="5.98" lengthAdjust="spacingAndGlyphs" stroke="#111" stroke-width="0.25">2N</text>
<rect x="371.6" y="526.22" width="7.2" height="86.28" fill="url(#gEL)"/>
<line x1="375.2" y1="518.14" x2="375.2" y2="526.22" stroke="#333" stroke-width="0.8"/>
<line x1="373.2" y1="518.14" x2="377.2" y2="518.14" stroke="#333" stroke-width="0.8"/>
<rect x="378.8" y="544.69" width="7.2" height="67.81" fill="url(#gED)"/>
<line x1="382.4" y1="534.01" x2="382.4" y2="544.69" stroke="#333" stroke-width="0.8"/>
<line x1="380.4" y1="534.01" x2="384.4" y2="534.01" stroke="#333" stroke-width="0.8"/>
<text x="402.4" y="617.4" text-anchor="middle" class="a" font-size="3.6" fill="#111" textLength="5.98" lengthAdjust="spacingAndGlyphs" stroke="#111" stroke-width="0.25">4N</text>
<rect x="395.2" y="574.84" width="7.2" height="37.66" fill="url(#gEL)"/>
<line x1="398.8" y1="569.79" x2="398.8" y2="574.84" stroke="#333" stroke-width="0.8"/>
<line x1="396.8" y1="569.79" x2="400.8" y2="569.79" stroke="#333" stroke-width="0.8"/>
<rect x="402.4" y="571.67" width="7.2" height="40.83" fill="url(#gED)"/>
<line x1="406" y1="567.77" x2="406" y2="571.67" stroke="#333" stroke-width="0.8"/>
<line x1="404" y1="567.77" x2="408" y2="567.77" stroke="#333" stroke-width="0.8"/>
<text x="426" y="617.4" text-anchor="middle" class="a" font-size="3.6" fill="#111" textLength="5.98" lengthAdjust="spacingAndGlyphs" stroke="#111" stroke-width="0.25">8N</text>
<rect x="418.8" y="597.35" width="7.2" height="15.15" fill="url(#gEL)"/>
<line x1="422.4" y1="595.19" x2="422.4" y2="597.35" stroke="#333" stroke-width="0.8"/>
<line x1="420.4" y1="595.19" x2="424.4" y2="595.19" stroke="#333" stroke-width="0.8"/>
<rect x="426" y="587.68" width="7.2" height="24.82" fill="url(#gED)"/>
<line x1="429.6" y1="581.05" x2="429.6" y2="587.68" stroke="#333" stroke-width="0.8"/>
<line x1="427.6" y1="581.05" x2="431.6" y2="581.05" stroke="#333" stroke-width="0.8"/>
<text x="449.6" y="617.4" text-anchor="middle" class="a" font-size="3.6" fill="#111" textLength="8.59" lengthAdjust="spacingAndGlyphs" stroke="#111" stroke-width="0.25">16N</text>
<rect x="442.4" y="606.73" width="7.2" height="5.77" fill="url(#gEL)"/>
<line x1="446" y1="606.01" x2="446" y2="606.73" stroke="#333" stroke-width="0.8"/>
<line x1="444" y1="606.01" x2="448" y2="606.01" stroke="#333" stroke-width="0.8"/>
<rect x="449.6" y="603.41" width="7.2" height="9.09" fill="url(#gED)"/>
<line x1="453.2" y1="600.96" x2="453.2" y2="603.41" stroke="#333" stroke-width="0.8"/>
<line x1="451.2" y1="600.96" x2="455.2" y2="600.96" stroke="#333" stroke-width="0.8"/>
<text x="473.2" y="617.4" text-anchor="middle" class="a" font-size="3.6" fill="#111" textLength="8.59" lengthAdjust="spacingAndGlyphs" stroke="#111" stroke-width="0.25">32N</text>
<rect x="466" y="611.78" width="7.2" height="0.72" fill="url(#gEL)"/>
<rect x="473.2" y="611.06" width="7.2" height="1.44" fill="url(#gED)"/>
<text x="496.8" y="617.4" text-anchor="middle" class="a" font-size="3.6" fill="#111" textLength="8.59" lengthAdjust="spacingAndGlyphs" stroke="#111" stroke-width="0.25">64N</text>
<rect x="489.6" y="612.21" width="7.2" height="0.29" fill="url(#gEL)"/>
<rect x="496.8" y="611.63" width="7.2" height="0.87" fill="url(#gED)"/>
<rect x="433.3" y="557.6" width="2.2" height="2.2" fill="#525252"/>
<text x="438.3" y="558.7" class="a" font-size="3.8" fill="#111" textLength="39.18" lengthAdjust="spacingAndGlyphs" stroke="#111" stroke-width="0.25">ShRNA control</text>
<rect x="433.3" y="563.3" width="2.2" height="2.2" fill="#3c3c3c"/>
<text x="438.3" y="564.4" class="a" font-size="3.8" fill="#111" textLength="37.05" lengthAdjust="spacingAndGlyphs" stroke="#111" stroke-width="0.25">ShRNA Rock1</text>
<defs><filter id="noise" x="0" y="0" width="100%" height="100%"><feTurbulence type="fractalNoise" baseFrequency="0.9" numOctaves="2" seed="3" result="t"/><feColorMatrix type="matrix" values="0 0 0 0 0.45  0 0 0 0 0.45  0 0 0 0 0.45  0 0 0 -2.4 1.45"/></filter></defs>
<rect x="48.7" y="399.6" width="77.8" height="27.9" fill="#e2e2e2"/>
<rect x="48.7" y="431.3" width="77.8" height="27.9" fill="#e0e0e0"/>
<rect x="48.7" y="399.6" width="77.8" height="27.9" filter="url(#noise)" opacity="0.4"/>
<rect x="48.7" y="431.3" width="77.8" height="27.9" filter="url(#noise)" opacity="0.4"/>
<path d="M51.3,411 C57,413.8 62,414.8 66,414.6 C71,414.4 76,413 80.6,411.2" stroke="#1a1a1a" stroke-width="3.1" fill="none" stroke-linecap="round"/>
<path d="M94.5,411 C99,412.6 103,414 107,414.2 C113,414.6 119,415 124,415.2" stroke="#1a1a1a" stroke-width="2.9" fill="none" stroke-linecap="round"/>
<path d="M49.5,440.2 C54,442.2 58.5,443.6 63,443.8 C68,443.8 73,443 79.5,441.6" stroke="#161616" stroke-width="3.8" fill="none" stroke-linecap="round"/>
<path d="M92.8,441.8 C97,444.4 102,446.6 107.3,447 C113,447.3 118,446.8 122.5,446" stroke="#161616" stroke-width="4.3" fill="none" stroke-linecap="round"/>
<circle cx="72.6" cy="452.8" r="2.4" fill="#111"/>
<text x="48.7" y="395.4" class="a" font-size="6.8" fill="#111" textLength="31.7" lengthAdjust="spacingAndGlyphs" stroke="#111" stroke-width="0.3">SCR shRNA</text>
<text x="91" y="395.4" class="a" font-size="6.8" fill="#111" textLength="34.6" lengthAdjust="spacingAndGlyphs" stroke="#111" stroke-width="0.3">shRNARock I</text>
<text x="133.8" y="413.9" class="a" font-size="8.3" fill="#111" textLength="22.6" lengthAdjust="spacingAndGlyphs" stroke="#111" stroke-width="0.3">Rock I</text>
<text x="134.6" y="445.6" class="a" font-size="8" fill="#111" textLength="21.4" lengthAdjust="spacingAndGlyphs" stroke="#111" stroke-width="0.3">Hsc70</text>
<text x="145.5" y="483.3" class="s" font-size="12" textLength="61.5" lengthAdjust="spacingAndGlyphs" stroke="#000" stroke-width="0.3">Western-blot</text>
<line x1="183.7" y1="377.5" x2="183.7" y2="461.3" stroke="#888" stroke-width="0.8"/>
<line x1="183.7" y1="461.3" x2="293" y2="461.3" stroke="#888" stroke-width="0.9"/>
<line x1="181.7" y1="461.3" x2="183.7" y2="461.3" stroke="#888" stroke-width="0.6"/>
<text x="180.4" y="461.3" text-anchor="end" class="a n" font-size="4.8" fill="#111" >0</text>
<line x1="181.7" y1="449.33" x2="183.7" y2="449.33" stroke="#888" stroke-width="0.6"/>
<text x="180.4" y="449.33" text-anchor="end" class="a n" font-size="4.8" fill="#111" >0.2</text>
<line x1="181.7" y1="437.36" x2="183.7" y2="437.36" stroke="#888" stroke-width="0.6"/>
<text x="180.4" y="437.36" text-anchor="end" class="a n" font-size="4.8" fill="#111" >0.4</text>
<line x1="181.7" y1="425.39" x2="183.7" y2="425.39" stroke="#888" stroke-width="0.6"/>
<text x="180.4" y="425.39" text-anchor="end" class="a n" font-size="4.8" fill="#111" >0.6</text>
<line x1="181.7" y1="413.41" x2="183.7" y2="413.41" stroke="#888" stroke-width="0.6"/>
<text x="180.4" y="413.41" text-anchor="end" class="a n" font-size="4.8" fill="#111" >0.8</text>
<line x1="181.7" y1="401.44" x2="183.7" y2="401.44" stroke="#888" stroke-width="0.6"/>
<text x="180.4" y="401.44" text-anchor="end" class="a n" font-size="4.8" fill="#111" >1</text>
<line x1="181.7" y1="389.47" x2="183.7" y2="389.47" stroke="#888" stroke-width="0.6"/>
<text x="180.4" y="389.47" text-anchor="end" class="a n" font-size="4.8" fill="#111" >1.2</text>
<line x1="181.7" y1="377.5" x2="183.7" y2="377.5" stroke="#888" stroke-width="0.6"/>
<text x="180.4" y="377.5" text-anchor="end" class="a n" font-size="4.8" fill="#111" >1.4</text>
<rect x="200.2" y="383.49" width="23.6" height="77.81" fill="url(#gR)"/>
<rect x="257.2" y="415.81" width="23.2" height="45.49" fill="url(#gR)"/>
<text x="210.6" y="379.3" text-anchor="middle" class="a" font-size="5.5" fill="#111" textLength="10.7" lengthAdjust="spacingAndGlyphs" stroke="#111" stroke-width="0.25">1.30</text>
<text x="267.9" y="412.1" text-anchor="middle" class="a" font-size="5.5" fill="#111" textLength="10.7" lengthAdjust="spacingAndGlyphs" stroke="#111" stroke-width="0.25">0.76</text>
<text x="211.8" y="465.6" text-anchor="middle" class="a" font-size="4.2" fill="#111" textLength="22.83" lengthAdjust="spacingAndGlyphs" stroke="#111" stroke-width="0.25">SCR shRNA</text>
<text x="269" y="465.6" text-anchor="middle" class="a" font-size="4.2" fill="#111" textLength="25.27" lengthAdjust="spacingAndGlyphs" stroke="#111" stroke-width="0.25">shRNARock I</text>
<text transform="translate(168.8,416.5) rotate(-90)" text-anchor="middle" class="a" font-size="5.2" fill="#111" textLength="50.1" lengthAdjust="spacingAndGlyphs" stroke="#111" stroke-width="0.25">Ratio Rock I/Hsc70</text>
<line x1="350.7" y1="366.1" x2="350.7" y2="467.1" stroke="#888" stroke-width="0.8"/>
<line x1="350.7" y1="467.1" x2="451" y2="467.1" stroke="#888" stroke-width="0.9"/>
<text x="347.5" y="467.1" text-anchor="end" class="a" font-size="4.4" fill="#111" textLength="8.27" lengthAdjust="spacingAndGlyphs" stroke="#111" stroke-width="0.25">0%</text>
<text x="347.5" y="450.27" text-anchor="end" class="a" font-size="4.4" fill="#111" textLength="11.45" lengthAdjust="spacingAndGlyphs" stroke="#111" stroke-width="0.25">20%</text>
<text x="347.5" y="433.43" text-anchor="end" class="a" font-size="4.4" fill="#111" textLength="11.45" lengthAdjust="spacingAndGlyphs" stroke="#111" stroke-width="0.25">40%</text>
<text x="347.5" y="416.6" text-anchor="end" class="a" font-size="4.4" fill="#111" textLength="11.45" lengthAdjust="spacingAndGlyphs" stroke="#111" stroke-width="0.25">60%</text>
<text x="347.5" y="399.77" text-anchor="end" class="a" font-size="4.4" fill="#111" textLength="11.45" lengthAdjust="spacingAndGlyphs" stroke="#111" stroke-width="0.25">80%</text>
<text x="347.5" y="382.93" text-anchor="end" class="a" font-size="4.4" fill="#111" textLength="14.63" lengthAdjust="spacingAndGlyphs" stroke="#111" stroke-width="0.25">100%</text>
<text x="347.5" y="366.1" text-anchor="end" class="a" font-size="4.4" fill="#111" textLength="14.63" lengthAdjust="spacingAndGlyphs" stroke="#111" stroke-width="0.25">120%</text>
<rect x="366.2" y="383.78" width="20.8" height="83.33" fill="url(#gR)"/>
<line x1="376.4" y1="373.68" x2="376.4" y2="383.78" stroke="#444" stroke-width="0.7"/>
<line x1="374.8" y1="373.68" x2="378" y2="373.68" stroke="#444" stroke-width="0.7"/>
<rect x="417" y="412.81" width="21" height="54.29" fill="url(#gR)"/>
<line x1="425.5" y1="412.22" x2="429.5" y2="412.22" stroke="#444" stroke-width="0.7"/>
<text x="376" y="474.3" text-anchor="middle" class="a" font-size="4.6" fill="#111" textLength="28.17" lengthAdjust="spacingAndGlyphs" stroke="#111" stroke-width="0.25">SCR shRNA</text>
<text x="427.9" y="474.3" text-anchor="middle" class="a" font-size="4.6" fill="#111" textLength="32.55" lengthAdjust="spacingAndGlyphs" stroke="#111" stroke-width="0.25">Rock I shRNA</text>
<rect x="457.8" y="415.6" width="2.4" height="2.2" fill="#898989"/>
<text x="461.9" y="416.7" class="a" font-size="4.6" fill="#111" textLength="16.16" lengthAdjust="spacingAndGlyphs" stroke="#111" stroke-width="0.25">mRNA</text>
<text x="357" y="487" class="s" font-size="13" textLength="89" lengthAdjust="spacingAndGlyphs" stroke="#000" stroke-width="0.3">Real time RT-PCR</text>
</svg></body></html>
